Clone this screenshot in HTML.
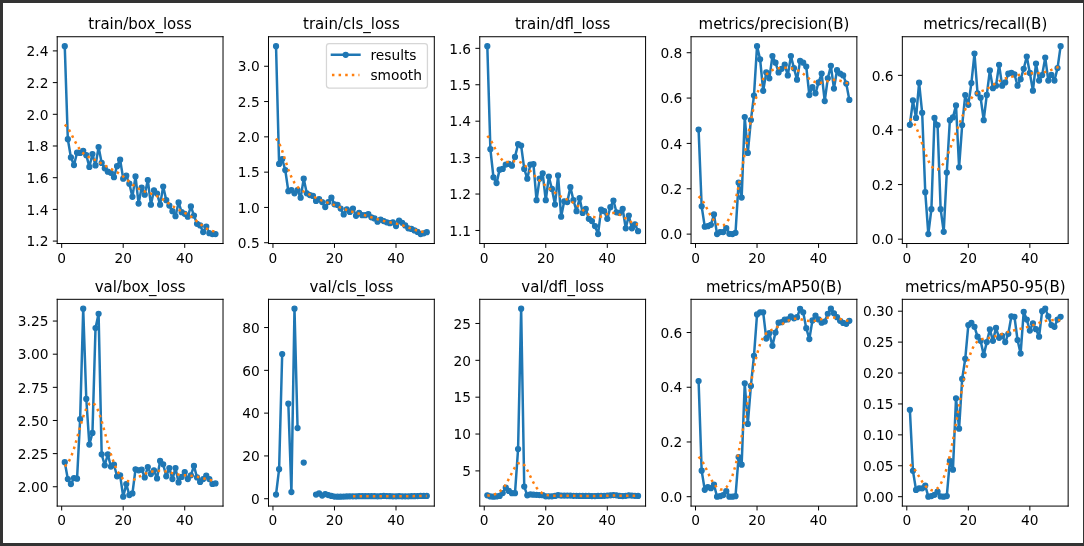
<!DOCTYPE html>
<html><head><meta charset="utf-8"><title>results</title>
<style>
html,body{margin:0;padding:0;background:#333333;}
body{width:1084px;height:546px;overflow:hidden;position:relative;font-family:"DejaVu Sans","Liberation Sans",sans-serif;}
#fig{position:absolute;left:3px;top:3px;width:1080px;height:540px;background:#fff;}
#fig svg{display:block}
</style></head><body><div id="fig">
<svg width="1080" height="540" viewBox="0 0 864 432">
 <defs>
  <style type="text/css">*{stroke-linejoin: round; stroke-linecap: butt}</style>
 </defs>
 <g id="figure_1">
  <g id="patch_1">
   <path d="M 0 432 L 864 432 L 864 0 L 0 0 z
" style="fill: #ffffff"/>
  </g>
  <g id="axes_1">
   <g id="patch_2">
    <path d="M 43.372 192.414 L 176.023 192.414 L 176.023 26.998 L 43.372 26.998 z
" style="fill: #ffffff"/>
   </g>
   <g id="matplotlib.axis_1">
    <g id="xtick_1">
     <g id="line2d_1">
      <g>
       <path d="M 0 0 L 0 3.5" transform="translate(46.940 192.414)" style="stroke: #000000; stroke-width: 0.8;stroke: #000000; stroke-width: 0.8"/>
      </g>
     </g>
     <g id="text_1">
      <text style="font-size: 11px; font-family: 'DejaVu Sans', 'Liberation Sans', sans-serif; text-anchor: middle" x="46.940" y="207.772">0</text>
     </g>
    </g>
    <g id="xtick_2">
     <g id="line2d_2">
      <g>
       <path d="M 0 0 L 0 3.5" transform="translate(96.161 192.414)" style="stroke: #000000; stroke-width: 0.8;stroke: #000000; stroke-width: 0.8"/>
      </g>
     </g>
     <g id="text_2">
      <text style="font-size: 11px; font-family: 'DejaVu Sans', 'Liberation Sans', sans-serif; text-anchor: middle" x="96.161" y="207.772">20</text>
     </g>
    </g>
    <g id="xtick_3">
     <g id="line2d_3">
      <g>
       <path d="M 0 0 L 0 3.5" transform="translate(145.382 192.414)" style="stroke: #000000; stroke-width: 0.8;stroke: #000000; stroke-width: 0.8"/>
      </g>
     </g>
     <g id="text_3">
      <text style="font-size: 11px; font-family: 'DejaVu Sans', 'Liberation Sans', sans-serif; text-anchor: middle" x="145.382" y="207.772">40</text>
     </g>
    </g>
   </g>
   <g id="matplotlib.axis_2">
    <g id="ytick_1">
     <g id="line2d_4">
      <g>
       <path d="M 0 0 L -3.5 0" transform="translate(43.372 190.474)" style="stroke: #000000; stroke-width: 0.8;stroke: #000000; stroke-width: 0.8"/>
      </g>
     </g>
     <g id="text_4">
      <text style="font-size: 11px; font-family: 'DejaVu Sans', 'Liberation Sans', sans-serif; text-anchor: end" x="36.372" y="194.653">1.2</text>
     </g>
    </g>
    <g id="ytick_2">
     <g id="line2d_5">
      <g>
       <path d="M 0 0 L -3.5 0" transform="translate(43.372 165.115)" style="stroke: #000000; stroke-width: 0.8;stroke: #000000; stroke-width: 0.8"/>
      </g>
     </g>
     <g id="text_5">
      <text style="font-size: 11px; font-family: 'DejaVu Sans', 'Liberation Sans', sans-serif; text-anchor: end" x="36.372" y="169.294">1.4</text>
     </g>
    </g>
    <g id="ytick_3">
     <g id="line2d_6">
      <g>
       <path d="M 0 0 L -3.5 0" transform="translate(43.372 139.756)" style="stroke: #000000; stroke-width: 0.8;stroke: #000000; stroke-width: 0.8"/>
      </g>
     </g>
     <g id="text_6">
      <text style="font-size: 11px; font-family: 'DejaVu Sans', 'Liberation Sans', sans-serif; text-anchor: end" x="36.372" y="143.935">1.6</text>
     </g>
    </g>
    <g id="ytick_4">
     <g id="line2d_7">
      <g>
       <path d="M 0 0 L -3.5 0" transform="translate(43.372 114.397)" style="stroke: #000000; stroke-width: 0.8;stroke: #000000; stroke-width: 0.8"/>
      </g>
     </g>
     <g id="text_7">
      <text style="font-size: 11px; font-family: 'DejaVu Sans', 'Liberation Sans', sans-serif; text-anchor: end" x="36.372" y="118.576">1.8</text>
     </g>
    </g>
    <g id="ytick_5">
     <g id="line2d_8">
      <g>
       <path d="M 0 0 L -3.5 0" transform="translate(43.372 89.038)" style="stroke: #000000; stroke-width: 0.8;stroke: #000000; stroke-width: 0.8"/>
      </g>
     </g>
     <g id="text_8">
      <text style="font-size: 11px; font-family: 'DejaVu Sans', 'Liberation Sans', sans-serif; text-anchor: end" x="36.372" y="93.217">2.0</text>
     </g>
    </g>
    <g id="ytick_6">
     <g id="line2d_9">
      <g>
       <path d="M 0 0 L -3.5 0" transform="translate(43.372 63.679)" style="stroke: #000000; stroke-width: 0.8;stroke: #000000; stroke-width: 0.8"/>
      </g>
     </g>
     <g id="text_9">
      <text style="font-size: 11px; font-family: 'DejaVu Sans', 'Liberation Sans', sans-serif; text-anchor: end" x="36.372" y="67.858">2.2</text>
     </g>
    </g>
    <g id="ytick_7">
     <g id="line2d_10">
      <g>
       <path d="M 0 0 L -3.5 0" transform="translate(43.372 38.320)" style="stroke: #000000; stroke-width: 0.8;stroke: #000000; stroke-width: 0.8"/>
      </g>
     </g>
     <g id="text_10">
      <text style="font-size: 11px; font-family: 'DejaVu Sans', 'Liberation Sans', sans-serif; text-anchor: end" x="36.372" y="42.500">2.4</text>
     </g>
    </g>
   </g>
   <g id="line2d_11">
    <path d="M 49.401 34.517 L 51.862 108.945 L 54.323 123.526 L 56.784 129.612 L 59.245 119.722 L 61.707 119.976 L 64.168 118.201 L 66.629 121.751 L 69.090 131.134 L 71.551 120.863 L 74.012 129.993 L 76.473 115.285 L 78.934 127.964 L 81.395 132.275 L 83.856 134.938 L 86.317 135.825 L 88.778 139.375 L 91.239 130.500 L 93.700 125.301 L 96.161 140.517 L 98.622 138.108 L 101.083 144.574 L 103.544 155.098 L 106.006 138.742 L 108.467 160.423 L 110.928 147.617 L 113.389 153.323 L 115.850 141.658 L 118.311 161.311 L 120.772 149.899 L 123.233 152.435 L 125.694 161.311 L 128.155 146.856 L 130.616 157.761 L 133.077 162.072 L 135.538 166.509 L 137.999 170.567 L 140.460 159.536 L 142.921 167.397 L 145.382 168.665 L 147.843 170.947 L 150.304 162.706 L 152.766 170.060 L 155.227 176.653 L 157.688 177.921 L 160.149 183.246 L 162.610 178.809 L 165.071 184.134 L 167.532 184.895 L 169.993 184.895 " clip-path="url(#p6f902339ce)" style="fill: none; stroke: #1f77b4; stroke-width: 2; stroke-linecap: square"/>
    <g clip-path="url(#p6f902339ce)">
     <circle cx="49.401" cy="34.517" r="2" style="stroke: #1f77b4;fill: #1f77b4; stroke: #1f77b4"/>
     <circle cx="51.862" cy="108.945" r="2" style="stroke: #1f77b4;fill: #1f77b4; stroke: #1f77b4"/>
     <circle cx="54.323" cy="123.526" r="2" style="stroke: #1f77b4;fill: #1f77b4; stroke: #1f77b4"/>
     <circle cx="56.784" cy="129.612" r="2" style="stroke: #1f77b4;fill: #1f77b4; stroke: #1f77b4"/>
     <circle cx="59.245" cy="119.722" r="2" style="stroke: #1f77b4;fill: #1f77b4; stroke: #1f77b4"/>
     <circle cx="61.707" cy="119.976" r="2" style="stroke: #1f77b4;fill: #1f77b4; stroke: #1f77b4"/>
     <circle cx="64.168" cy="118.201" r="2" style="stroke: #1f77b4;fill: #1f77b4; stroke: #1f77b4"/>
     <circle cx="66.629" cy="121.751" r="2" style="stroke: #1f77b4;fill: #1f77b4; stroke: #1f77b4"/>
     <circle cx="69.090" cy="131.134" r="2" style="stroke: #1f77b4;fill: #1f77b4; stroke: #1f77b4"/>
     <circle cx="71.551" cy="120.863" r="2" style="stroke: #1f77b4;fill: #1f77b4; stroke: #1f77b4"/>
     <circle cx="74.012" cy="129.993" r="2" style="stroke: #1f77b4;fill: #1f77b4; stroke: #1f77b4"/>
     <circle cx="76.473" cy="115.285" r="2" style="stroke: #1f77b4;fill: #1f77b4; stroke: #1f77b4"/>
     <circle cx="78.934" cy="127.964" r="2" style="stroke: #1f77b4;fill: #1f77b4; stroke: #1f77b4"/>
     <circle cx="81.395" cy="132.275" r="2" style="stroke: #1f77b4;fill: #1f77b4; stroke: #1f77b4"/>
     <circle cx="83.856" cy="134.938" r="2" style="stroke: #1f77b4;fill: #1f77b4; stroke: #1f77b4"/>
     <circle cx="86.317" cy="135.825" r="2" style="stroke: #1f77b4;fill: #1f77b4; stroke: #1f77b4"/>
     <circle cx="88.778" cy="139.375" r="2" style="stroke: #1f77b4;fill: #1f77b4; stroke: #1f77b4"/>
     <circle cx="91.239" cy="130.500" r="2" style="stroke: #1f77b4;fill: #1f77b4; stroke: #1f77b4"/>
     <circle cx="93.700" cy="125.301" r="2" style="stroke: #1f77b4;fill: #1f77b4; stroke: #1f77b4"/>
     <circle cx="96.161" cy="140.517" r="2" style="stroke: #1f77b4;fill: #1f77b4; stroke: #1f77b4"/>
     <circle cx="98.622" cy="138.108" r="2" style="stroke: #1f77b4;fill: #1f77b4; stroke: #1f77b4"/>
     <circle cx="101.083" cy="144.574" r="2" style="stroke: #1f77b4;fill: #1f77b4; stroke: #1f77b4"/>
     <circle cx="103.544" cy="155.098" r="2" style="stroke: #1f77b4;fill: #1f77b4; stroke: #1f77b4"/>
     <circle cx="106.006" cy="138.742" r="2" style="stroke: #1f77b4;fill: #1f77b4; stroke: #1f77b4"/>
     <circle cx="108.467" cy="160.423" r="2" style="stroke: #1f77b4;fill: #1f77b4; stroke: #1f77b4"/>
     <circle cx="110.928" cy="147.617" r="2" style="stroke: #1f77b4;fill: #1f77b4; stroke: #1f77b4"/>
     <circle cx="113.389" cy="153.323" r="2" style="stroke: #1f77b4;fill: #1f77b4; stroke: #1f77b4"/>
     <circle cx="115.850" cy="141.658" r="2" style="stroke: #1f77b4;fill: #1f77b4; stroke: #1f77b4"/>
     <circle cx="118.311" cy="161.311" r="2" style="stroke: #1f77b4;fill: #1f77b4; stroke: #1f77b4"/>
     <circle cx="120.772" cy="149.899" r="2" style="stroke: #1f77b4;fill: #1f77b4; stroke: #1f77b4"/>
     <circle cx="123.233" cy="152.435" r="2" style="stroke: #1f77b4;fill: #1f77b4; stroke: #1f77b4"/>
     <circle cx="125.694" cy="161.311" r="2" style="stroke: #1f77b4;fill: #1f77b4; stroke: #1f77b4"/>
     <circle cx="128.155" cy="146.856" r="2" style="stroke: #1f77b4;fill: #1f77b4; stroke: #1f77b4"/>
     <circle cx="130.616" cy="157.761" r="2" style="stroke: #1f77b4;fill: #1f77b4; stroke: #1f77b4"/>
     <circle cx="133.077" cy="162.072" r="2" style="stroke: #1f77b4;fill: #1f77b4; stroke: #1f77b4"/>
     <circle cx="135.538" cy="166.509" r="2" style="stroke: #1f77b4;fill: #1f77b4; stroke: #1f77b4"/>
     <circle cx="137.999" cy="170.567" r="2" style="stroke: #1f77b4;fill: #1f77b4; stroke: #1f77b4"/>
     <circle cx="140.460" cy="159.536" r="2" style="stroke: #1f77b4;fill: #1f77b4; stroke: #1f77b4"/>
     <circle cx="142.921" cy="167.397" r="2" style="stroke: #1f77b4;fill: #1f77b4; stroke: #1f77b4"/>
     <circle cx="145.382" cy="168.665" r="2" style="stroke: #1f77b4;fill: #1f77b4; stroke: #1f77b4"/>
     <circle cx="147.843" cy="170.947" r="2" style="stroke: #1f77b4;fill: #1f77b4; stroke: #1f77b4"/>
     <circle cx="150.304" cy="162.706" r="2" style="stroke: #1f77b4;fill: #1f77b4; stroke: #1f77b4"/>
     <circle cx="152.766" cy="170.060" r="2" style="stroke: #1f77b4;fill: #1f77b4; stroke: #1f77b4"/>
     <circle cx="155.227" cy="176.653" r="2" style="stroke: #1f77b4;fill: #1f77b4; stroke: #1f77b4"/>
     <circle cx="157.688" cy="177.921" r="2" style="stroke: #1f77b4;fill: #1f77b4; stroke: #1f77b4"/>
     <circle cx="160.149" cy="183.246" r="2" style="stroke: #1f77b4;fill: #1f77b4; stroke: #1f77b4"/>
     <circle cx="162.610" cy="178.809" r="2" style="stroke: #1f77b4;fill: #1f77b4; stroke: #1f77b4"/>
     <circle cx="165.071" cy="184.134" r="2" style="stroke: #1f77b4;fill: #1f77b4; stroke: #1f77b4"/>
     <circle cx="167.532" cy="184.895" r="2" style="stroke: #1f77b4;fill: #1f77b4; stroke: #1f77b4"/>
     <circle cx="169.993" cy="184.895" r="2" style="stroke: #1f77b4;fill: #1f77b4; stroke: #1f77b4"/>
    </g>
   </g>
   <g id="line2d_12">
    <path d="M 49.401 97.286 L 51.862 99.820 L 54.323 104.147 L 56.784 109.144 L 59.245 113.798 L 61.707 117.525 L 64.168 120.220 L 66.629 122.092 L 69.090 123.460 L 71.551 124.616 L 74.012 125.775 L 76.473 127.052 L 78.934 128.465 L 81.395 129.942 L 83.856 131.383 L 86.317 132.730 L 88.778 134.016 L 91.239 135.365 L 93.700 136.923 L 96.161 138.771 L 98.622 140.871 L 101.083 143.074 L 103.544 145.186 L 106.006 147.044 L 108.467 148.571 L 110.928 149.782 L 113.389 150.764 L 115.850 151.632 L 118.311 152.493 L 120.772 153.433 L 123.233 154.520 L 125.694 155.800 L 128.155 157.285 L 130.616 158.937 L 133.077 160.663 L 135.538 162.347 L 137.999 163.897 L 140.460 165.287 L 142.921 166.570 L 145.382 167.854 L 147.843 169.258 L 150.304 170.867 L 152.766 172.697 L 155.227 174.681 L 157.688 176.693 L 160.149 178.587 L 162.610 180.229 L 165.071 181.523 L 167.532 182.410 L 169.993 182.860 " clip-path="url(#p6f902339ce)" style="fill: none; stroke-dasharray: 2,3.3; stroke-dashoffset: 0; stroke: #ff7f0e; stroke-width: 2"/>
   </g>
   <g id="patch_3">
    <path d="M 43.372 192.414 L 43.372 26.998 " style="fill: none; stroke: #000000; stroke-width: 0.8; stroke-linejoin: miter; stroke-linecap: square"/>
   </g>
   <g id="patch_4">
    <path d="M 176.023 192.414 L 176.023 26.998 " style="fill: none; stroke: #000000; stroke-width: 0.8; stroke-linejoin: miter; stroke-linecap: square"/>
   </g>
   <g id="patch_5">
    <path d="M 43.372 192.414 L 176.023 192.414 " style="fill: none; stroke: #000000; stroke-width: 0.8; stroke-linejoin: miter; stroke-linecap: square"/>
   </g>
   <g id="patch_6">
    <path d="M 43.372 26.998 L 176.023 26.998 " style="fill: none; stroke: #000000; stroke-width: 0.8; stroke-linejoin: miter; stroke-linecap: square"/>
   </g>
   <g id="text_11">
    <text style="font-size: 12px; font-family: 'DejaVu Sans', 'Liberation Sans', sans-serif; text-anchor: middle" x="109.697" y="20.998">train/box_loss</text>
   </g>
  </g>
  <g id="axes_2">
   <g id="patch_7">
    <path d="M 212.396 192.414 L 345.047 192.414 L 345.047 26.998 L 212.396 26.998 z
" style="fill: #ffffff"/>
   </g>
   <g id="matplotlib.axis_3">
    <g id="xtick_4">
     <g id="line2d_13">
      <g>
       <path d="M 0 0 L 0 3.5" transform="translate(215.964 192.414)" style="stroke: #000000; stroke-width: 0.8;stroke: #000000; stroke-width: 0.8"/>
      </g>
     </g>
     <g id="text_12">
      <text style="font-size: 11px; font-family: 'DejaVu Sans', 'Liberation Sans', sans-serif; text-anchor: middle" x="215.964" y="207.772">0</text>
     </g>
    </g>
    <g id="xtick_5">
     <g id="line2d_14">
      <g>
       <path d="M 0 0 L 0 3.5" transform="translate(265.186 192.414)" style="stroke: #000000; stroke-width: 0.8;stroke: #000000; stroke-width: 0.8"/>
      </g>
     </g>
     <g id="text_13">
      <text style="font-size: 11px; font-family: 'DejaVu Sans', 'Liberation Sans', sans-serif; text-anchor: middle" x="265.186" y="207.772">20</text>
     </g>
    </g>
    <g id="xtick_6">
     <g id="line2d_15">
      <g>
       <path d="M 0 0 L 0 3.5" transform="translate(314.407 192.414)" style="stroke: #000000; stroke-width: 0.8;stroke: #000000; stroke-width: 0.8"/>
      </g>
     </g>
     <g id="text_14">
      <text style="font-size: 11px; font-family: 'DejaVu Sans', 'Liberation Sans', sans-serif; text-anchor: middle" x="314.407" y="207.772">40</text>
     </g>
    </g>
   </g>
   <g id="matplotlib.axis_4">
    <g id="ytick_8">
     <g id="line2d_16">
      <g>
       <path d="M 0 0 L -3.5 0" transform="translate(212.396 191.784)" style="stroke: #000000; stroke-width: 0.8;stroke: #000000; stroke-width: 0.8"/>
      </g>
     </g>
     <g id="text_15">
      <text style="font-size: 11px; font-family: 'DejaVu Sans', 'Liberation Sans', sans-serif; text-anchor: end" x="205.396" y="195.963">0.5</text>
     </g>
    </g>
    <g id="ytick_9">
     <g id="line2d_17">
      <g>
       <path d="M 0 0 L -3.5 0" transform="translate(212.396 163.549)" style="stroke: #000000; stroke-width: 0.8;stroke: #000000; stroke-width: 0.8"/>
      </g>
     </g>
     <g id="text_16">
      <text style="font-size: 11px; font-family: 'DejaVu Sans', 'Liberation Sans', sans-serif; text-anchor: end" x="205.396" y="167.728">1.0</text>
     </g>
    </g>
    <g id="ytick_10">
     <g id="line2d_18">
      <g>
       <path d="M 0 0 L -3.5 0" transform="translate(212.396 135.314)" style="stroke: #000000; stroke-width: 0.8;stroke: #000000; stroke-width: 0.8"/>
      </g>
     </g>
     <g id="text_17">
      <text style="font-size: 11px; font-family: 'DejaVu Sans', 'Liberation Sans', sans-serif; text-anchor: end" x="205.396" y="139.494">1.5</text>
     </g>
    </g>
    <g id="ytick_11">
     <g id="line2d_19">
      <g>
       <path d="M 0 0 L -3.5 0" transform="translate(212.396 107.080)" style="stroke: #000000; stroke-width: 0.8;stroke: #000000; stroke-width: 0.8"/>
      </g>
     </g>
     <g id="text_18">
      <text style="font-size: 11px; font-family: 'DejaVu Sans', 'Liberation Sans', sans-serif; text-anchor: end" x="205.396" y="111.259">2.0</text>
     </g>
    </g>
    <g id="ytick_12">
     <g id="line2d_20">
      <g>
       <path d="M 0 0 L -3.5 0" transform="translate(212.396 78.845)" style="stroke: #000000; stroke-width: 0.8;stroke: #000000; stroke-width: 0.8"/>
      </g>
     </g>
     <g id="text_19">
      <text style="font-size: 11px; font-family: 'DejaVu Sans', 'Liberation Sans', sans-serif; text-anchor: end" x="205.396" y="83.024">2.5</text>
     </g>
    </g>
    <g id="ytick_13">
     <g id="line2d_21">
      <g>
       <path d="M 0 0 L -3.5 0" transform="translate(212.396 50.610)" style="stroke: #000000; stroke-width: 0.8;stroke: #000000; stroke-width: 0.8"/>
      </g>
     </g>
     <g id="text_20">
      <text style="font-size: 11px; font-family: 'DejaVu Sans', 'Liberation Sans', sans-serif; text-anchor: end" x="205.396" y="54.789">3.0</text>
     </g>
    </g>
   </g>
   <g id="line2d_22">
    <path d="M 218.426 34.517 L 220.887 128.708 L 223.348 124.868 L 225.809 133.620 L 228.270 150.505 L 230.731 149.658 L 233.192 152.255 L 235.653 149.658 L 238.114 155.756 L 240.575 140.566 L 243.036 152.255 L 245.497 153.667 L 247.958 154.345 L 250.419 158.354 L 252.880 156.942 L 255.341 159.258 L 257.802 163.267 L 260.263 159.258 L 262.724 155.756 L 265.186 161.008 L 267.647 161.516 L 270.108 164.453 L 272.569 169.196 L 275.030 165.017 L 277.491 167.107 L 279.952 164.453 L 282.413 170.213 L 284.874 167.954 L 287.335 169.704 L 289.796 169.704 L 292.257 168.857 L 294.718 171.455 L 297.179 172.358 L 299.640 174.956 L 302.101 173.205 L 304.562 174.448 L 307.023 175.464 L 309.485 176.198 L 311.946 175.464 L 314.407 178.457 L 316.868 174.109 L 319.329 175.803 L 321.790 177.949 L 324.251 180.208 L 326.712 180.716 L 329.173 181.958 L 331.634 183.144 L 334.095 184.895 L 336.556 184.217 L 339.017 183.314 " clip-path="url(#p2032f3da3a)" style="fill: none; stroke: #1f77b4; stroke-width: 2; stroke-linecap: square"/>
    <g clip-path="url(#p2032f3da3a)">
     <circle cx="218.426" cy="34.517" r="2" style="stroke: #1f77b4;fill: #1f77b4; stroke: #1f77b4"/>
     <circle cx="220.887" cy="128.708" r="2" style="stroke: #1f77b4;fill: #1f77b4; stroke: #1f77b4"/>
     <circle cx="223.348" cy="124.868" r="2" style="stroke: #1f77b4;fill: #1f77b4; stroke: #1f77b4"/>
     <circle cx="225.809" cy="133.620" r="2" style="stroke: #1f77b4;fill: #1f77b4; stroke: #1f77b4"/>
     <circle cx="228.270" cy="150.505" r="2" style="stroke: #1f77b4;fill: #1f77b4; stroke: #1f77b4"/>
     <circle cx="230.731" cy="149.658" r="2" style="stroke: #1f77b4;fill: #1f77b4; stroke: #1f77b4"/>
     <circle cx="233.192" cy="152.255" r="2" style="stroke: #1f77b4;fill: #1f77b4; stroke: #1f77b4"/>
     <circle cx="235.653" cy="149.658" r="2" style="stroke: #1f77b4;fill: #1f77b4; stroke: #1f77b4"/>
     <circle cx="238.114" cy="155.756" r="2" style="stroke: #1f77b4;fill: #1f77b4; stroke: #1f77b4"/>
     <circle cx="240.575" cy="140.566" r="2" style="stroke: #1f77b4;fill: #1f77b4; stroke: #1f77b4"/>
     <circle cx="243.036" cy="152.255" r="2" style="stroke: #1f77b4;fill: #1f77b4; stroke: #1f77b4"/>
     <circle cx="245.497" cy="153.667" r="2" style="stroke: #1f77b4;fill: #1f77b4; stroke: #1f77b4"/>
     <circle cx="247.958" cy="154.345" r="2" style="stroke: #1f77b4;fill: #1f77b4; stroke: #1f77b4"/>
     <circle cx="250.419" cy="158.354" r="2" style="stroke: #1f77b4;fill: #1f77b4; stroke: #1f77b4"/>
     <circle cx="252.880" cy="156.942" r="2" style="stroke: #1f77b4;fill: #1f77b4; stroke: #1f77b4"/>
     <circle cx="255.341" cy="159.258" r="2" style="stroke: #1f77b4;fill: #1f77b4; stroke: #1f77b4"/>
     <circle cx="257.802" cy="163.267" r="2" style="stroke: #1f77b4;fill: #1f77b4; stroke: #1f77b4"/>
     <circle cx="260.263" cy="159.258" r="2" style="stroke: #1f77b4;fill: #1f77b4; stroke: #1f77b4"/>
     <circle cx="262.724" cy="155.756" r="2" style="stroke: #1f77b4;fill: #1f77b4; stroke: #1f77b4"/>
     <circle cx="265.186" cy="161.008" r="2" style="stroke: #1f77b4;fill: #1f77b4; stroke: #1f77b4"/>
     <circle cx="267.647" cy="161.516" r="2" style="stroke: #1f77b4;fill: #1f77b4; stroke: #1f77b4"/>
     <circle cx="270.108" cy="164.453" r="2" style="stroke: #1f77b4;fill: #1f77b4; stroke: #1f77b4"/>
     <circle cx="272.569" cy="169.196" r="2" style="stroke: #1f77b4;fill: #1f77b4; stroke: #1f77b4"/>
     <circle cx="275.030" cy="165.017" r="2" style="stroke: #1f77b4;fill: #1f77b4; stroke: #1f77b4"/>
     <circle cx="277.491" cy="167.107" r="2" style="stroke: #1f77b4;fill: #1f77b4; stroke: #1f77b4"/>
     <circle cx="279.952" cy="164.453" r="2" style="stroke: #1f77b4;fill: #1f77b4; stroke: #1f77b4"/>
     <circle cx="282.413" cy="170.213" r="2" style="stroke: #1f77b4;fill: #1f77b4; stroke: #1f77b4"/>
     <circle cx="284.874" cy="167.954" r="2" style="stroke: #1f77b4;fill: #1f77b4; stroke: #1f77b4"/>
     <circle cx="287.335" cy="169.704" r="2" style="stroke: #1f77b4;fill: #1f77b4; stroke: #1f77b4"/>
     <circle cx="289.796" cy="169.704" r="2" style="stroke: #1f77b4;fill: #1f77b4; stroke: #1f77b4"/>
     <circle cx="292.257" cy="168.857" r="2" style="stroke: #1f77b4;fill: #1f77b4; stroke: #1f77b4"/>
     <circle cx="294.718" cy="171.455" r="2" style="stroke: #1f77b4;fill: #1f77b4; stroke: #1f77b4"/>
     <circle cx="297.179" cy="172.358" r="2" style="stroke: #1f77b4;fill: #1f77b4; stroke: #1f77b4"/>
     <circle cx="299.640" cy="174.956" r="2" style="stroke: #1f77b4;fill: #1f77b4; stroke: #1f77b4"/>
     <circle cx="302.101" cy="173.205" r="2" style="stroke: #1f77b4;fill: #1f77b4; stroke: #1f77b4"/>
     <circle cx="304.562" cy="174.448" r="2" style="stroke: #1f77b4;fill: #1f77b4; stroke: #1f77b4"/>
     <circle cx="307.023" cy="175.464" r="2" style="stroke: #1f77b4;fill: #1f77b4; stroke: #1f77b4"/>
     <circle cx="309.485" cy="176.198" r="2" style="stroke: #1f77b4;fill: #1f77b4; stroke: #1f77b4"/>
     <circle cx="311.946" cy="175.464" r="2" style="stroke: #1f77b4;fill: #1f77b4; stroke: #1f77b4"/>
     <circle cx="314.407" cy="178.457" r="2" style="stroke: #1f77b4;fill: #1f77b4; stroke: #1f77b4"/>
     <circle cx="316.868" cy="174.109" r="2" style="stroke: #1f77b4;fill: #1f77b4; stroke: #1f77b4"/>
     <circle cx="319.329" cy="175.803" r="2" style="stroke: #1f77b4;fill: #1f77b4; stroke: #1f77b4"/>
     <circle cx="321.790" cy="177.949" r="2" style="stroke: #1f77b4;fill: #1f77b4; stroke: #1f77b4"/>
     <circle cx="324.251" cy="180.208" r="2" style="stroke: #1f77b4;fill: #1f77b4; stroke: #1f77b4"/>
     <circle cx="326.712" cy="180.716" r="2" style="stroke: #1f77b4;fill: #1f77b4; stroke: #1f77b4"/>
     <circle cx="329.173" cy="181.958" r="2" style="stroke: #1f77b4;fill: #1f77b4; stroke: #1f77b4"/>
     <circle cx="331.634" cy="183.144" r="2" style="stroke: #1f77b4;fill: #1f77b4; stroke: #1f77b4"/>
     <circle cx="334.095" cy="184.895" r="2" style="stroke: #1f77b4;fill: #1f77b4; stroke: #1f77b4"/>
     <circle cx="336.556" cy="184.217" r="2" style="stroke: #1f77b4;fill: #1f77b4; stroke: #1f77b4"/>
     <circle cx="339.017" cy="183.314" r="2" style="stroke: #1f77b4;fill: #1f77b4; stroke: #1f77b4"/>
    </g>
   </g>
   <g id="line2d_23">
    <path d="M 218.426 108.346 L 220.887 111.930 L 223.348 118.198 L 225.809 125.723 L 228.270 133.084 L 230.731 139.293 L 233.192 143.949 L 235.653 147.153 L 238.114 149.295 L 240.575 150.829 L 243.036 152.122 L 245.497 153.381 L 247.958 154.663 L 250.419 155.924 L 252.880 157.093 L 255.341 158.126 L 257.802 159.033 L 260.263 159.875 L 262.724 160.730 L 265.186 161.654 L 267.647 162.655 L 270.108 163.689 L 272.569 164.692 L 275.030 165.614 L 277.491 166.437 L 279.952 167.178 L 282.413 167.867 L 284.874 168.539 L 287.335 169.220 L 289.796 169.929 L 292.257 170.675 L 294.718 171.449 L 297.179 172.233 L 299.640 172.996 L 302.101 173.712 L 304.562 174.360 L 307.023 174.938 L 309.485 175.459 L 311.946 175.958 L 314.407 176.482 L 316.868 177.082 L 319.329 177.795 L 321.790 178.626 L 324.251 179.543 L 326.712 180.483 L 329.173 181.371 L 331.634 182.137 L 334.095 182.732 L 336.556 183.132 L 339.017 183.331 " clip-path="url(#p2032f3da3a)" style="fill: none; stroke-dasharray: 2,3.3; stroke-dashoffset: 0; stroke: #ff7f0e; stroke-width: 2"/>
   </g>
   <g id="patch_8">
    <path d="M 212.396 192.414 L 212.396 26.998 " style="fill: none; stroke: #000000; stroke-width: 0.8; stroke-linejoin: miter; stroke-linecap: square"/>
   </g>
   <g id="patch_9">
    <path d="M 345.047 192.414 L 345.047 26.998 " style="fill: none; stroke: #000000; stroke-width: 0.8; stroke-linejoin: miter; stroke-linecap: square"/>
   </g>
   <g id="patch_10">
    <path d="M 212.396 192.414 L 345.047 192.414 " style="fill: none; stroke: #000000; stroke-width: 0.8; stroke-linejoin: miter; stroke-linecap: square"/>
   </g>
   <g id="patch_11">
    <path d="M 212.396 26.998 L 345.047 26.998 " style="fill: none; stroke: #000000; stroke-width: 0.8; stroke-linejoin: miter; stroke-linecap: square"/>
   </g>
   <g id="text_21">
    <text style="font-size: 12px; font-family: 'DejaVu Sans', 'Liberation Sans', sans-serif; text-anchor: middle" x="278.721" y="20.998">train/cls_loss</text>
   </g>
   <g id="legend_1">
    <g id="patch_12">
     <path d="M 260.957 68.09 L 337.347 68.09 Q 339.547 68.09 339.547 65.89 L 339.547 34.698 Q 339.547 32.498 337.347 32.498 L 260.957 32.498 Q 258.757 32.498 258.757 34.698 L 258.757 65.89 Q 258.757 68.09 260.957 68.09 z
" style="fill: #ffffff; opacity: 0.8; stroke: #cccccc; stroke-linejoin: miter"/>
    </g>
    <g id="line2d_24">
     <path d="M 263.157 41.406 L 274.157 41.406 L 285.157 41.406 " style="fill: none; stroke: #1f77b4; stroke-width: 2; stroke-linecap: square"/>
     <g>
      <circle cx="274.157" cy="41.406" r="2" style="stroke: #1f77b4;fill: #1f77b4; stroke: #1f77b4"/>
     </g>
    </g>
    <g id="text_22">
     <text style="font-size: 11px; font-family: 'DejaVu Sans', 'Liberation Sans', sans-serif; text-anchor: start" x="293.957" y="45.256">results</text>
    </g>
    <g id="line2d_25">
     <path d="M 263.157 57.552 L 274.157 57.552 L 285.157 57.552 " style="fill: none; stroke-dasharray: 2,3.3; stroke-dashoffset: 0; stroke: #ff7f0e; stroke-width: 2"/>
    </g>
    <g id="text_23">
     <text style="font-size: 11px; font-family: 'DejaVu Sans', 'Liberation Sans', sans-serif; text-anchor: start" x="293.957" y="61.402">smooth</text>
    </g>
   </g>
  </g>
  <g id="axes_3">
   <g id="patch_13">
    <path d="M 381.420 192.414 L 514.071 192.414 L 514.071 26.998 L 381.420 26.998 z
" style="fill: #ffffff"/>
   </g>
   <g id="matplotlib.axis_5">
    <g id="xtick_7">
     <g id="line2d_26">
      <g>
       <path d="M 0 0 L 0 3.5" transform="translate(384.989 192.414)" style="stroke: #000000; stroke-width: 0.8;stroke: #000000; stroke-width: 0.8"/>
      </g>
     </g>
     <g id="text_24">
      <text style="font-size: 11px; font-family: 'DejaVu Sans', 'Liberation Sans', sans-serif; text-anchor: middle" x="384.989" y="207.772">0</text>
     </g>
    </g>
    <g id="xtick_8">
     <g id="line2d_27">
      <g>
       <path d="M 0 0 L 0 3.5" transform="translate(434.210 192.414)" style="stroke: #000000; stroke-width: 0.8;stroke: #000000; stroke-width: 0.8"/>
      </g>
     </g>
     <g id="text_25">
      <text style="font-size: 11px; font-family: 'DejaVu Sans', 'Liberation Sans', sans-serif; text-anchor: middle" x="434.210" y="207.772">20</text>
     </g>
    </g>
    <g id="xtick_9">
     <g id="line2d_28">
      <g>
       <path d="M 0 0 L 0 3.5" transform="translate(483.431 192.414)" style="stroke: #000000; stroke-width: 0.8;stroke: #000000; stroke-width: 0.8"/>
      </g>
     </g>
     <g id="text_26">
      <text style="font-size: 11px; font-family: 'DejaVu Sans', 'Liberation Sans', sans-serif; text-anchor: middle" x="483.431" y="207.772">40</text>
     </g>
    </g>
   </g>
   <g id="matplotlib.axis_6">
    <g id="ytick_14">
     <g id="line2d_29">
      <g>
       <path d="M 0 0 L -3.5 0" transform="translate(381.420 181.980)" style="stroke: #000000; stroke-width: 0.8;stroke: #000000; stroke-width: 0.8"/>
      </g>
     </g>
     <g id="text_27">
      <text style="font-size: 11px; font-family: 'DejaVu Sans', 'Liberation Sans', sans-serif; text-anchor: end" x="374.420" y="186.159">1.1</text>
     </g>
    </g>
    <g id="ytick_15">
     <g id="line2d_30">
      <g>
       <path d="M 0 0 L -3.5 0" transform="translate(381.420 152.837)" style="stroke: #000000; stroke-width: 0.8;stroke: #000000; stroke-width: 0.8"/>
      </g>
     </g>
     <g id="text_28">
      <text style="font-size: 11px; font-family: 'DejaVu Sans', 'Liberation Sans', sans-serif; text-anchor: end" x="374.420" y="157.016">1.2</text>
     </g>
    </g>
    <g id="ytick_16">
     <g id="line2d_31">
      <g>
       <path d="M 0 0 L -3.5 0" transform="translate(381.420 123.694)" style="stroke: #000000; stroke-width: 0.8;stroke: #000000; stroke-width: 0.8"/>
      </g>
     </g>
     <g id="text_29">
      <text style="font-size: 11px; font-family: 'DejaVu Sans', 'Liberation Sans', sans-serif; text-anchor: end" x="374.420" y="127.873">1.3</text>
     </g>
    </g>
    <g id="ytick_17">
     <g id="line2d_32">
      <g>
       <path d="M 0 0 L -3.5 0" transform="translate(381.420 94.551)" style="stroke: #000000; stroke-width: 0.8;stroke: #000000; stroke-width: 0.8"/>
      </g>
     </g>
     <g id="text_30">
      <text style="font-size: 11px; font-family: 'DejaVu Sans', 'Liberation Sans', sans-serif; text-anchor: end" x="374.420" y="98.730">1.4</text>
     </g>
    </g>
    <g id="ytick_18">
     <g id="line2d_33">
      <g>
       <path d="M 0 0 L -3.5 0" transform="translate(381.420 65.408)" style="stroke: #000000; stroke-width: 0.8;stroke: #000000; stroke-width: 0.8"/>
      </g>
     </g>
     <g id="text_31">
      <text style="font-size: 11px; font-family: 'DejaVu Sans', 'Liberation Sans', sans-serif; text-anchor: end" x="374.420" y="69.587">1.5</text>
     </g>
    </g>
    <g id="ytick_19">
     <g id="line2d_34">
      <g>
       <path d="M 0 0 L -3.5 0" transform="translate(381.420 36.265)" style="stroke: #000000; stroke-width: 0.8;stroke: #000000; stroke-width: 0.8"/>
      </g>
     </g>
     <g id="text_32">
      <text style="font-size: 11px; font-family: 'DejaVu Sans', 'Liberation Sans', sans-serif; text-anchor: end" x="374.420" y="40.444">1.6</text>
     </g>
    </g>
   </g>
   <g id="line2d_35">
    <path d="M 387.450 34.517 L 389.911 116.991 L 392.372 139.432 L 394.833 144.094 L 397.294 133.311 L 399.755 132.729 L 402.216 129.231 L 404.677 128.649 L 407.138 130.106 L 409.599 123.111 L 412.060 112.911 L 414.521 114.077 L 416.982 132.729 L 419.443 140.597 L 421.905 129.231 L 424.366 128.940 L 426.827 157.792 L 429.288 140.597 L 431.749 136.226 L 434.210 157.792 L 436.671 138.849 L 439.132 148.757 L 441.593 161.289 L 444.054 137.974 L 446.515 170.906 L 448.976 158.666 L 451.437 159.249 L 453.898 147.300 L 456.359 157.792 L 458.820 166.535 L 461.281 156.043 L 463.742 167.992 L 466.203 164.786 L 468.665 172.655 L 471.126 174.403 L 473.587 178.483 L 476.048 184.895 L 478.509 165.369 L 480.970 166.535 L 483.431 172.655 L 485.892 163.329 L 488.353 158.083 L 490.814 167.409 L 493.275 167.992 L 495.736 164.786 L 498.197 180.232 L 500.658 170.032 L 503.119 180.232 L 505.580 177.026 L 508.041 182.563 " clip-path="url(#p749622a387)" style="fill: none; stroke: #1f77b4; stroke-width: 2; stroke-linecap: square"/>
    <g clip-path="url(#p749622a387)">
     <circle cx="387.450" cy="34.517" r="2" style="stroke: #1f77b4;fill: #1f77b4; stroke: #1f77b4"/>
     <circle cx="389.911" cy="116.991" r="2" style="stroke: #1f77b4;fill: #1f77b4; stroke: #1f77b4"/>
     <circle cx="392.372" cy="139.432" r="2" style="stroke: #1f77b4;fill: #1f77b4; stroke: #1f77b4"/>
     <circle cx="394.833" cy="144.094" r="2" style="stroke: #1f77b4;fill: #1f77b4; stroke: #1f77b4"/>
     <circle cx="397.294" cy="133.311" r="2" style="stroke: #1f77b4;fill: #1f77b4; stroke: #1f77b4"/>
     <circle cx="399.755" cy="132.729" r="2" style="stroke: #1f77b4;fill: #1f77b4; stroke: #1f77b4"/>
     <circle cx="402.216" cy="129.231" r="2" style="stroke: #1f77b4;fill: #1f77b4; stroke: #1f77b4"/>
     <circle cx="404.677" cy="128.649" r="2" style="stroke: #1f77b4;fill: #1f77b4; stroke: #1f77b4"/>
     <circle cx="407.138" cy="130.106" r="2" style="stroke: #1f77b4;fill: #1f77b4; stroke: #1f77b4"/>
     <circle cx="409.599" cy="123.111" r="2" style="stroke: #1f77b4;fill: #1f77b4; stroke: #1f77b4"/>
     <circle cx="412.060" cy="112.911" r="2" style="stroke: #1f77b4;fill: #1f77b4; stroke: #1f77b4"/>
     <circle cx="414.521" cy="114.077" r="2" style="stroke: #1f77b4;fill: #1f77b4; stroke: #1f77b4"/>
     <circle cx="416.982" cy="132.729" r="2" style="stroke: #1f77b4;fill: #1f77b4; stroke: #1f77b4"/>
     <circle cx="419.443" cy="140.597" r="2" style="stroke: #1f77b4;fill: #1f77b4; stroke: #1f77b4"/>
     <circle cx="421.905" cy="129.231" r="2" style="stroke: #1f77b4;fill: #1f77b4; stroke: #1f77b4"/>
     <circle cx="424.366" cy="128.940" r="2" style="stroke: #1f77b4;fill: #1f77b4; stroke: #1f77b4"/>
     <circle cx="426.827" cy="157.792" r="2" style="stroke: #1f77b4;fill: #1f77b4; stroke: #1f77b4"/>
     <circle cx="429.288" cy="140.597" r="2" style="stroke: #1f77b4;fill: #1f77b4; stroke: #1f77b4"/>
     <circle cx="431.749" cy="136.226" r="2" style="stroke: #1f77b4;fill: #1f77b4; stroke: #1f77b4"/>
     <circle cx="434.210" cy="157.792" r="2" style="stroke: #1f77b4;fill: #1f77b4; stroke: #1f77b4"/>
     <circle cx="436.671" cy="138.849" r="2" style="stroke: #1f77b4;fill: #1f77b4; stroke: #1f77b4"/>
     <circle cx="439.132" cy="148.757" r="2" style="stroke: #1f77b4;fill: #1f77b4; stroke: #1f77b4"/>
     <circle cx="441.593" cy="161.289" r="2" style="stroke: #1f77b4;fill: #1f77b4; stroke: #1f77b4"/>
     <circle cx="444.054" cy="137.974" r="2" style="stroke: #1f77b4;fill: #1f77b4; stroke: #1f77b4"/>
     <circle cx="446.515" cy="170.906" r="2" style="stroke: #1f77b4;fill: #1f77b4; stroke: #1f77b4"/>
     <circle cx="448.976" cy="158.666" r="2" style="stroke: #1f77b4;fill: #1f77b4; stroke: #1f77b4"/>
     <circle cx="451.437" cy="159.249" r="2" style="stroke: #1f77b4;fill: #1f77b4; stroke: #1f77b4"/>
     <circle cx="453.898" cy="147.300" r="2" style="stroke: #1f77b4;fill: #1f77b4; stroke: #1f77b4"/>
     <circle cx="456.359" cy="157.792" r="2" style="stroke: #1f77b4;fill: #1f77b4; stroke: #1f77b4"/>
     <circle cx="458.820" cy="166.535" r="2" style="stroke: #1f77b4;fill: #1f77b4; stroke: #1f77b4"/>
     <circle cx="461.281" cy="156.043" r="2" style="stroke: #1f77b4;fill: #1f77b4; stroke: #1f77b4"/>
     <circle cx="463.742" cy="167.992" r="2" style="stroke: #1f77b4;fill: #1f77b4; stroke: #1f77b4"/>
     <circle cx="466.203" cy="164.786" r="2" style="stroke: #1f77b4;fill: #1f77b4; stroke: #1f77b4"/>
     <circle cx="468.665" cy="172.655" r="2" style="stroke: #1f77b4;fill: #1f77b4; stroke: #1f77b4"/>
     <circle cx="471.126" cy="174.403" r="2" style="stroke: #1f77b4;fill: #1f77b4; stroke: #1f77b4"/>
     <circle cx="473.587" cy="178.483" r="2" style="stroke: #1f77b4;fill: #1f77b4; stroke: #1f77b4"/>
     <circle cx="476.048" cy="184.895" r="2" style="stroke: #1f77b4;fill: #1f77b4; stroke: #1f77b4"/>
     <circle cx="478.509" cy="165.369" r="2" style="stroke: #1f77b4;fill: #1f77b4; stroke: #1f77b4"/>
     <circle cx="480.970" cy="166.535" r="2" style="stroke: #1f77b4;fill: #1f77b4; stroke: #1f77b4"/>
     <circle cx="483.431" cy="172.655" r="2" style="stroke: #1f77b4;fill: #1f77b4; stroke: #1f77b4"/>
     <circle cx="485.892" cy="163.329" r="2" style="stroke: #1f77b4;fill: #1f77b4; stroke: #1f77b4"/>
     <circle cx="488.353" cy="158.083" r="2" style="stroke: #1f77b4;fill: #1f77b4; stroke: #1f77b4"/>
     <circle cx="490.814" cy="167.409" r="2" style="stroke: #1f77b4;fill: #1f77b4; stroke: #1f77b4"/>
     <circle cx="493.275" cy="167.992" r="2" style="stroke: #1f77b4;fill: #1f77b4; stroke: #1f77b4"/>
     <circle cx="495.736" cy="164.786" r="2" style="stroke: #1f77b4;fill: #1f77b4; stroke: #1f77b4"/>
     <circle cx="498.197" cy="180.232" r="2" style="stroke: #1f77b4;fill: #1f77b4; stroke: #1f77b4"/>
     <circle cx="500.658" cy="170.032" r="2" style="stroke: #1f77b4;fill: #1f77b4; stroke: #1f77b4"/>
     <circle cx="503.119" cy="180.232" r="2" style="stroke: #1f77b4;fill: #1f77b4; stroke: #1f77b4"/>
     <circle cx="505.580" cy="177.026" r="2" style="stroke: #1f77b4;fill: #1f77b4; stroke: #1f77b4"/>
     <circle cx="508.041" cy="182.563" r="2" style="stroke: #1f77b4;fill: #1f77b4; stroke: #1f77b4"/>
    </g>
   </g>
   <g id="line2d_36">
    <path d="M 387.450 106.306 L 389.911 109.097 L 392.372 113.756 L 394.833 118.882 L 397.294 123.200 L 399.755 125.996 L 402.216 127.211 L 404.677 127.271 L 407.138 126.815 L 409.599 126.464 L 412.060 126.678 L 414.521 127.680 L 416.982 129.459 L 419.443 131.823 L 421.905 134.494 L 424.366 137.209 L 426.827 139.781 L 429.288 142.125 L 431.749 144.250 L 434.210 146.221 L 436.671 148.110 L 439.132 149.958 L 441.593 151.743 L 444.054 153.404 L 446.515 154.879 L 448.976 156.161 L 451.437 157.324 L 453.898 158.510 L 456.359 159.868 L 458.820 161.498 L 461.281 163.407 L 463.742 165.498 L 466.203 167.586 L 468.665 169.430 L 471.126 170.784 L 473.587 171.471 L 476.048 171.446 L 478.509 170.821 L 480.970 169.847 L 483.431 168.847 L 485.892 168.132 L 488.353 167.927 L 490.814 168.335 L 493.275 169.324 L 495.736 170.756 L 498.197 172.428 L 500.658 174.112 L 503.119 175.593 L 505.580 176.690 L 508.041 177.273 " clip-path="url(#p749622a387)" style="fill: none; stroke-dasharray: 2,3.3; stroke-dashoffset: 0; stroke: #ff7f0e; stroke-width: 2"/>
   </g>
   <g id="patch_14">
    <path d="M 381.420 192.414 L 381.420 26.998 " style="fill: none; stroke: #000000; stroke-width: 0.8; stroke-linejoin: miter; stroke-linecap: square"/>
   </g>
   <g id="patch_15">
    <path d="M 514.071 192.414 L 514.071 26.998 " style="fill: none; stroke: #000000; stroke-width: 0.8; stroke-linejoin: miter; stroke-linecap: square"/>
   </g>
   <g id="patch_16">
    <path d="M 381.420 192.414 L 514.071 192.414 " style="fill: none; stroke: #000000; stroke-width: 0.8; stroke-linejoin: miter; stroke-linecap: square"/>
   </g>
   <g id="patch_17">
    <path d="M 381.420 26.998 L 514.071 26.998 " style="fill: none; stroke: #000000; stroke-width: 0.8; stroke-linejoin: miter; stroke-linecap: square"/>
   </g>
   <g id="text_33">
    <text style="font-size: 12px; font-family: 'DejaVu Sans', 'Liberation Sans', sans-serif; text-anchor: middle" x="447.746" y="20.998">train/dfl_loss</text>
   </g>
  </g>
  <g id="axes_4">
   <g id="patch_18">
    <path d="M 550.444 192.414 L 683.095 192.414 L 683.095 26.998 L 550.444 26.998 z
" style="fill: #ffffff"/>
   </g>
   <g id="matplotlib.axis_7">
    <g id="xtick_10">
     <g id="line2d_37">
      <g>
       <path d="M 0 0 L 0 3.5" transform="translate(554.013 192.414)" style="stroke: #000000; stroke-width: 0.8;stroke: #000000; stroke-width: 0.8"/>
      </g>
     </g>
     <g id="text_34">
      <text style="font-size: 11px; font-family: 'DejaVu Sans', 'Liberation Sans', sans-serif; text-anchor: middle" x="554.013" y="207.772">0</text>
     </g>
    </g>
    <g id="xtick_11">
     <g id="line2d_38">
      <g>
       <path d="M 0 0 L 0 3.5" transform="translate(603.234 192.414)" style="stroke: #000000; stroke-width: 0.8;stroke: #000000; stroke-width: 0.8"/>
      </g>
     </g>
     <g id="text_35">
      <text style="font-size: 11px; font-family: 'DejaVu Sans', 'Liberation Sans', sans-serif; text-anchor: middle" x="603.234" y="207.772">20</text>
     </g>
    </g>
    <g id="xtick_12">
     <g id="line2d_39">
      <g>
       <path d="M 0 0 L 0 3.5" transform="translate(652.455 192.414)" style="stroke: #000000; stroke-width: 0.8;stroke: #000000; stroke-width: 0.8"/>
      </g>
     </g>
     <g id="text_36">
      <text style="font-size: 11px; font-family: 'DejaVu Sans', 'Liberation Sans', sans-serif; text-anchor: middle" x="652.455" y="207.772">40</text>
     </g>
    </g>
   </g>
   <g id="matplotlib.axis_8">
    <g id="ytick_20">
     <g id="line2d_40">
      <g>
       <path d="M 0 0 L -3.5 0" transform="translate(550.444 184.895)" style="stroke: #000000; stroke-width: 0.8;stroke: #000000; stroke-width: 0.8"/>
      </g>
     </g>
     <g id="text_37">
      <text style="font-size: 11px; font-family: 'DejaVu Sans', 'Liberation Sans', sans-serif; text-anchor: end" x="543.444" y="189.074">0.0</text>
     </g>
    </g>
    <g id="ytick_21">
     <g id="line2d_41">
      <g>
       <path d="M 0 0 L -3.5 0" transform="translate(550.444 148.615)" style="stroke: #000000; stroke-width: 0.8;stroke: #000000; stroke-width: 0.8"/>
      </g>
     </g>
     <g id="text_38">
      <text style="font-size: 11px; font-family: 'DejaVu Sans', 'Liberation Sans', sans-serif; text-anchor: end" x="543.444" y="152.794">0.2</text>
     </g>
    </g>
    <g id="ytick_22">
     <g id="line2d_42">
      <g>
       <path d="M 0 0 L -3.5 0" transform="translate(550.444 112.336)" style="stroke: #000000; stroke-width: 0.8;stroke: #000000; stroke-width: 0.8"/>
      </g>
     </g>
     <g id="text_39">
      <text style="font-size: 11px; font-family: 'DejaVu Sans', 'Liberation Sans', sans-serif; text-anchor: end" x="543.444" y="116.515">0.4</text>
     </g>
    </g>
    <g id="ytick_23">
     <g id="line2d_43">
      <g>
       <path d="M 0 0 L -3.5 0" transform="translate(550.444 76.056)" style="stroke: #000000; stroke-width: 0.8;stroke: #000000; stroke-width: 0.8"/>
      </g>
     </g>
     <g id="text_40">
      <text style="font-size: 11px; font-family: 'DejaVu Sans', 'Liberation Sans', sans-serif; text-anchor: end" x="543.444" y="80.236">0.6</text>
     </g>
    </g>
    <g id="ytick_24">
     <g id="line2d_44">
      <g>
       <path d="M 0 0 L -3.5 0" transform="translate(550.444 39.777)" style="stroke: #000000; stroke-width: 0.8;stroke: #000000; stroke-width: 0.8"/>
      </g>
     </g>
     <g id="text_41">
      <text style="font-size: 11px; font-family: 'DejaVu Sans', 'Liberation Sans', sans-serif; text-anchor: end" x="543.444" y="43.956">0.8</text>
     </g>
    </g>
   </g>
   <g id="line2d_45">
    <path d="M 556.474 101.271 L 558.935 162.674 L 561.396 178.909 L 563.857 178.546 L 566.318 177.457 L 568.779 169.113 L 571.240 184.895 L 573.701 183.262 L 576.162 183.262 L 578.624 180.178 L 581.085 184.623 L 583.546 184.895 L 586.007 183.806 L 588.468 143.718 L 590.929 155.690 L 593.390 91.294 L 595.851 119.955 L 598.312 93.652 L 600.773 74.061 L 603.234 34.517 L 605.695 45.038 L 608.156 70.252 L 610.617 55.559 L 613.078 60.275 L 615.539 42.498 L 618.000 47.759 L 620.461 55.559 L 622.922 52.656 L 625.384 49.391 L 627.845 57.917 L 630.306 42.498 L 632.767 52.112 L 635.228 61.363 L 637.689 46.307 L 640.150 47.759 L 642.611 50.842 L 645.072 73.698 L 647.533 67.349 L 649.994 72.247 L 652.455 63.540 L 654.916 56.466 L 657.377 78.415 L 659.838 60.275 L 662.299 50.298 L 664.760 68.438 L 667.221 53.745 L 669.683 56.466 L 672.144 57.917 L 674.605 64.447 L 677.066 77.508 " clip-path="url(#p696ac3a86a)" style="fill: none; stroke: #1f77b4; stroke-width: 2; stroke-linecap: square"/>
    <g clip-path="url(#p696ac3a86a)">
     <circle cx="556.474" cy="101.271" r="2" style="stroke: #1f77b4;fill: #1f77b4; stroke: #1f77b4"/>
     <circle cx="558.935" cy="162.674" r="2" style="stroke: #1f77b4;fill: #1f77b4; stroke: #1f77b4"/>
     <circle cx="561.396" cy="178.909" r="2" style="stroke: #1f77b4;fill: #1f77b4; stroke: #1f77b4"/>
     <circle cx="563.857" cy="178.546" r="2" style="stroke: #1f77b4;fill: #1f77b4; stroke: #1f77b4"/>
     <circle cx="566.318" cy="177.457" r="2" style="stroke: #1f77b4;fill: #1f77b4; stroke: #1f77b4"/>
     <circle cx="568.779" cy="169.113" r="2" style="stroke: #1f77b4;fill: #1f77b4; stroke: #1f77b4"/>
     <circle cx="571.240" cy="184.895" r="2" style="stroke: #1f77b4;fill: #1f77b4; stroke: #1f77b4"/>
     <circle cx="573.701" cy="183.262" r="2" style="stroke: #1f77b4;fill: #1f77b4; stroke: #1f77b4"/>
     <circle cx="576.162" cy="183.262" r="2" style="stroke: #1f77b4;fill: #1f77b4; stroke: #1f77b4"/>
     <circle cx="578.624" cy="180.178" r="2" style="stroke: #1f77b4;fill: #1f77b4; stroke: #1f77b4"/>
     <circle cx="581.085" cy="184.623" r="2" style="stroke: #1f77b4;fill: #1f77b4; stroke: #1f77b4"/>
     <circle cx="583.546" cy="184.895" r="2" style="stroke: #1f77b4;fill: #1f77b4; stroke: #1f77b4"/>
     <circle cx="586.007" cy="183.806" r="2" style="stroke: #1f77b4;fill: #1f77b4; stroke: #1f77b4"/>
     <circle cx="588.468" cy="143.718" r="2" style="stroke: #1f77b4;fill: #1f77b4; stroke: #1f77b4"/>
     <circle cx="590.929" cy="155.690" r="2" style="stroke: #1f77b4;fill: #1f77b4; stroke: #1f77b4"/>
     <circle cx="593.390" cy="91.294" r="2" style="stroke: #1f77b4;fill: #1f77b4; stroke: #1f77b4"/>
     <circle cx="595.851" cy="119.955" r="2" style="stroke: #1f77b4;fill: #1f77b4; stroke: #1f77b4"/>
     <circle cx="598.312" cy="93.652" r="2" style="stroke: #1f77b4;fill: #1f77b4; stroke: #1f77b4"/>
     <circle cx="600.773" cy="74.061" r="2" style="stroke: #1f77b4;fill: #1f77b4; stroke: #1f77b4"/>
     <circle cx="603.234" cy="34.517" r="2" style="stroke: #1f77b4;fill: #1f77b4; stroke: #1f77b4"/>
     <circle cx="605.695" cy="45.038" r="2" style="stroke: #1f77b4;fill: #1f77b4; stroke: #1f77b4"/>
     <circle cx="608.156" cy="70.252" r="2" style="stroke: #1f77b4;fill: #1f77b4; stroke: #1f77b4"/>
     <circle cx="610.617" cy="55.559" r="2" style="stroke: #1f77b4;fill: #1f77b4; stroke: #1f77b4"/>
     <circle cx="613.078" cy="60.275" r="2" style="stroke: #1f77b4;fill: #1f77b4; stroke: #1f77b4"/>
     <circle cx="615.539" cy="42.498" r="2" style="stroke: #1f77b4;fill: #1f77b4; stroke: #1f77b4"/>
     <circle cx="618.000" cy="47.759" r="2" style="stroke: #1f77b4;fill: #1f77b4; stroke: #1f77b4"/>
     <circle cx="620.461" cy="55.559" r="2" style="stroke: #1f77b4;fill: #1f77b4; stroke: #1f77b4"/>
     <circle cx="622.922" cy="52.656" r="2" style="stroke: #1f77b4;fill: #1f77b4; stroke: #1f77b4"/>
     <circle cx="625.384" cy="49.391" r="2" style="stroke: #1f77b4;fill: #1f77b4; stroke: #1f77b4"/>
     <circle cx="627.845" cy="57.917" r="2" style="stroke: #1f77b4;fill: #1f77b4; stroke: #1f77b4"/>
     <circle cx="630.306" cy="42.498" r="2" style="stroke: #1f77b4;fill: #1f77b4; stroke: #1f77b4"/>
     <circle cx="632.767" cy="52.112" r="2" style="stroke: #1f77b4;fill: #1f77b4; stroke: #1f77b4"/>
     <circle cx="635.228" cy="61.363" r="2" style="stroke: #1f77b4;fill: #1f77b4; stroke: #1f77b4"/>
     <circle cx="637.689" cy="46.307" r="2" style="stroke: #1f77b4;fill: #1f77b4; stroke: #1f77b4"/>
     <circle cx="640.150" cy="47.759" r="2" style="stroke: #1f77b4;fill: #1f77b4; stroke: #1f77b4"/>
     <circle cx="642.611" cy="50.842" r="2" style="stroke: #1f77b4;fill: #1f77b4; stroke: #1f77b4"/>
     <circle cx="645.072" cy="73.698" r="2" style="stroke: #1f77b4;fill: #1f77b4; stroke: #1f77b4"/>
     <circle cx="647.533" cy="67.349" r="2" style="stroke: #1f77b4;fill: #1f77b4; stroke: #1f77b4"/>
     <circle cx="649.994" cy="72.247" r="2" style="stroke: #1f77b4;fill: #1f77b4; stroke: #1f77b4"/>
     <circle cx="652.455" cy="63.540" r="2" style="stroke: #1f77b4;fill: #1f77b4; stroke: #1f77b4"/>
     <circle cx="654.916" cy="56.466" r="2" style="stroke: #1f77b4;fill: #1f77b4; stroke: #1f77b4"/>
     <circle cx="657.377" cy="78.415" r="2" style="stroke: #1f77b4;fill: #1f77b4; stroke: #1f77b4"/>
     <circle cx="659.838" cy="60.275" r="2" style="stroke: #1f77b4;fill: #1f77b4; stroke: #1f77b4"/>
     <circle cx="662.299" cy="50.298" r="2" style="stroke: #1f77b4;fill: #1f77b4; stroke: #1f77b4"/>
     <circle cx="664.760" cy="68.438" r="2" style="stroke: #1f77b4;fill: #1f77b4; stroke: #1f77b4"/>
     <circle cx="667.221" cy="53.745" r="2" style="stroke: #1f77b4;fill: #1f77b4; stroke: #1f77b4"/>
     <circle cx="669.683" cy="56.466" r="2" style="stroke: #1f77b4;fill: #1f77b4; stroke: #1f77b4"/>
     <circle cx="672.144" cy="57.917" r="2" style="stroke: #1f77b4;fill: #1f77b4; stroke: #1f77b4"/>
     <circle cx="674.605" cy="64.447" r="2" style="stroke: #1f77b4;fill: #1f77b4; stroke: #1f77b4"/>
     <circle cx="677.066" cy="77.508" r="2" style="stroke: #1f77b4;fill: #1f77b4; stroke: #1f77b4"/>
    </g>
   </g>
   <g id="line2d_46">
    <path d="M 556.474 154.614 L 558.935 156.953 L 561.396 161.002 L 563.857 165.784 L 566.318 170.371 L 568.779 174.132 L 571.240 176.751 L 573.701 178.081 L 576.162 177.967 L 578.624 176.148 L 581.085 172.291 L 583.546 166.105 L 586.007 157.493 L 588.468 146.651 L 590.929 134.081 L 593.390 120.518 L 595.851 106.824 L 598.312 93.869 L 600.773 82.417 L 603.234 72.997 L 605.695 65.808 L 608.156 60.699 L 610.617 57.272 L 613.078 55.049 L 615.539 53.627 L 618.000 52.729 L 620.461 52.190 L 622.922 51.907 L 625.384 51.815 L 627.845 51.889 L 630.306 52.153 L 632.767 52.682 L 635.228 53.571 L 637.689 54.887 L 640.150 56.607 L 642.611 58.584 L 645.072 60.558 L 647.533 62.230 L 649.994 63.363 L 652.455 63.854 L 654.916 63.749 L 657.377 63.215 L 659.838 62.489 L 662.299 61.835 L 664.760 61.486 L 667.221 61.592 L 669.683 62.159 L 672.144 63.021 L 674.605 63.882 L 677.066 64.417 " clip-path="url(#p696ac3a86a)" style="fill: none; stroke-dasharray: 2,3.3; stroke-dashoffset: 0; stroke: #ff7f0e; stroke-width: 2"/>
   </g>
   <g id="patch_19">
    <path d="M 550.444 192.414 L 550.444 26.998 " style="fill: none; stroke: #000000; stroke-width: 0.8; stroke-linejoin: miter; stroke-linecap: square"/>
   </g>
   <g id="patch_20">
    <path d="M 683.095 192.414 L 683.095 26.998 " style="fill: none; stroke: #000000; stroke-width: 0.8; stroke-linejoin: miter; stroke-linecap: square"/>
   </g>
   <g id="patch_21">
    <path d="M 550.444 192.414 L 683.095 192.414 " style="fill: none; stroke: #000000; stroke-width: 0.8; stroke-linejoin: miter; stroke-linecap: square"/>
   </g>
   <g id="patch_22">
    <path d="M 550.444 26.998 L 683.095 26.998 " style="fill: none; stroke: #000000; stroke-width: 0.8; stroke-linejoin: miter; stroke-linecap: square"/>
   </g>
   <g id="text_42">
    <text style="font-size: 12px; font-family: 'DejaVu Sans', 'Liberation Sans', sans-serif; text-anchor: middle" x="616.770" y="20.998">metrics/precision(B)</text>
   </g>
  </g>
  <g id="axes_5">
   <g id="patch_23">
    <path d="M 719.469 192.414 L 852.12 192.414 L 852.12 26.998 L 719.469 26.998 z
" style="fill: #ffffff"/>
   </g>
   <g id="matplotlib.axis_9">
    <g id="xtick_13">
     <g id="line2d_47">
      <g>
       <path d="M 0 0 L 0 3.5" transform="translate(723.037 192.414)" style="stroke: #000000; stroke-width: 0.8;stroke: #000000; stroke-width: 0.8"/>
      </g>
     </g>
     <g id="text_43">
      <text style="font-size: 11px; font-family: 'DejaVu Sans', 'Liberation Sans', sans-serif; text-anchor: middle" x="723.037" y="207.772">0</text>
     </g>
    </g>
    <g id="xtick_14">
     <g id="line2d_48">
      <g>
       <path d="M 0 0 L 0 3.5" transform="translate(772.258 192.414)" style="stroke: #000000; stroke-width: 0.8;stroke: #000000; stroke-width: 0.8"/>
      </g>
     </g>
     <g id="text_44">
      <text style="font-size: 11px; font-family: 'DejaVu Sans', 'Liberation Sans', sans-serif; text-anchor: middle" x="772.258" y="207.772">20</text>
     </g>
    </g>
    <g id="xtick_15">
     <g id="line2d_49">
      <g>
       <path d="M 0 0 L 0 3.5" transform="translate(821.479 192.414)" style="stroke: #000000; stroke-width: 0.8;stroke: #000000; stroke-width: 0.8"/>
      </g>
     </g>
     <g id="text_45">
      <text style="font-size: 11px; font-family: 'DejaVu Sans', 'Liberation Sans', sans-serif; text-anchor: middle" x="821.479" y="207.772">40</text>
     </g>
    </g>
   </g>
   <g id="matplotlib.axis_10">
    <g id="ytick_25">
     <g id="line2d_50">
      <g>
       <path d="M 0 0 L -3.5 0" transform="translate(719.469 188.935)" style="stroke: #000000; stroke-width: 0.8;stroke: #000000; stroke-width: 0.8"/>
      </g>
     </g>
     <g id="text_46">
      <text style="font-size: 11px; font-family: 'DejaVu Sans', 'Liberation Sans', sans-serif; text-anchor: end" x="712.469" y="193.114">0.0</text>
     </g>
    </g>
    <g id="ytick_26">
     <g id="line2d_51">
      <g>
       <path d="M 0 0 L -3.5 0" transform="translate(719.469 145.252)" style="stroke: #000000; stroke-width: 0.8;stroke: #000000; stroke-width: 0.8"/>
      </g>
     </g>
     <g id="text_47">
      <text style="font-size: 11px; font-family: 'DejaVu Sans', 'Liberation Sans', sans-serif; text-anchor: end" x="712.469" y="149.432">0.2</text>
     </g>
    </g>
    <g id="ytick_27">
     <g id="line2d_52">
      <g>
       <path d="M 0 0 L -3.5 0" transform="translate(719.469 101.570)" style="stroke: #000000; stroke-width: 0.8;stroke: #000000; stroke-width: 0.8"/>
      </g>
     </g>
     <g id="text_48">
      <text style="font-size: 11px; font-family: 'DejaVu Sans', 'Liberation Sans', sans-serif; text-anchor: end" x="712.469" y="105.749">0.4</text>
     </g>
    </g>
    <g id="ytick_28">
     <g id="line2d_53">
      <g>
       <path d="M 0 0 L -3.5 0" transform="translate(719.469 57.887)" style="stroke: #000000; stroke-width: 0.8;stroke: #000000; stroke-width: 0.8"/>
      </g>
     </g>
     <g id="text_49">
      <text style="font-size: 11px; font-family: 'DejaVu Sans', 'Liberation Sans', sans-serif; text-anchor: end" x="712.469" y="62.066">0.6</text>
     </g>
    </g>
   </g>
   <g id="line2d_54">
    <path d="M 725.498 97.420 L 727.959 77.981 L 730.420 91.959 L 732.881 63.784 L 735.342 87.810 L 737.804 151.368 L 740.265 184.895 L 742.726 164.910 L 745.187 91.959 L 747.648 97.638 L 750.109 164.910 L 752.570 183.038 L 755.031 135.642 L 757.492 93.707 L 759.953 91.523 L 762.414 81.912 L 764.875 131.492 L 767.336 97.638 L 769.797 73.613 L 772.258 81.476 L 774.719 64.002 L 777.180 40.414 L 779.641 72.302 L 782.103 75.797 L 784.564 93.707 L 787.025 73.503 L 789.486 53.955 L 791.947 68.152 L 794.408 66.187 L 796.869 49.478 L 799.330 66.187 L 801.791 63.566 L 804.252 56.576 L 806.713 55.921 L 809.174 57.013 L 811.635 66.187 L 814.096 60.945 L 816.557 52.645 L 819.018 42.816 L 821.479 55.921 L 823.940 70.118 L 826.401 48.495 L 828.863 62.037 L 831.324 57.668 L 833.785 43.690 L 836.246 62.037 L 838.707 57.450 L 841.168 62.037 L 843.629 52.099 L 846.090 34.517 " clip-path="url(#p1779c1c7cb)" style="fill: none; stroke: #1f77b4; stroke-width: 2; stroke-linecap: square"/>
    <g clip-path="url(#p1779c1c7cb)">
     <circle cx="725.498" cy="97.420" r="2" style="stroke: #1f77b4;fill: #1f77b4; stroke: #1f77b4"/>
     <circle cx="727.959" cy="77.981" r="2" style="stroke: #1f77b4;fill: #1f77b4; stroke: #1f77b4"/>
     <circle cx="730.420" cy="91.959" r="2" style="stroke: #1f77b4;fill: #1f77b4; stroke: #1f77b4"/>
     <circle cx="732.881" cy="63.784" r="2" style="stroke: #1f77b4;fill: #1f77b4; stroke: #1f77b4"/>
     <circle cx="735.342" cy="87.810" r="2" style="stroke: #1f77b4;fill: #1f77b4; stroke: #1f77b4"/>
     <circle cx="737.804" cy="151.368" r="2" style="stroke: #1f77b4;fill: #1f77b4; stroke: #1f77b4"/>
     <circle cx="740.265" cy="184.895" r="2" style="stroke: #1f77b4;fill: #1f77b4; stroke: #1f77b4"/>
     <circle cx="742.726" cy="164.910" r="2" style="stroke: #1f77b4;fill: #1f77b4; stroke: #1f77b4"/>
     <circle cx="745.187" cy="91.959" r="2" style="stroke: #1f77b4;fill: #1f77b4; stroke: #1f77b4"/>
     <circle cx="747.648" cy="97.638" r="2" style="stroke: #1f77b4;fill: #1f77b4; stroke: #1f77b4"/>
     <circle cx="750.109" cy="164.910" r="2" style="stroke: #1f77b4;fill: #1f77b4; stroke: #1f77b4"/>
     <circle cx="752.570" cy="183.038" r="2" style="stroke: #1f77b4;fill: #1f77b4; stroke: #1f77b4"/>
     <circle cx="755.031" cy="135.642" r="2" style="stroke: #1f77b4;fill: #1f77b4; stroke: #1f77b4"/>
     <circle cx="757.492" cy="93.707" r="2" style="stroke: #1f77b4;fill: #1f77b4; stroke: #1f77b4"/>
     <circle cx="759.953" cy="91.523" r="2" style="stroke: #1f77b4;fill: #1f77b4; stroke: #1f77b4"/>
     <circle cx="762.414" cy="81.912" r="2" style="stroke: #1f77b4;fill: #1f77b4; stroke: #1f77b4"/>
     <circle cx="764.875" cy="131.492" r="2" style="stroke: #1f77b4;fill: #1f77b4; stroke: #1f77b4"/>
     <circle cx="767.336" cy="97.638" r="2" style="stroke: #1f77b4;fill: #1f77b4; stroke: #1f77b4"/>
     <circle cx="769.797" cy="73.613" r="2" style="stroke: #1f77b4;fill: #1f77b4; stroke: #1f77b4"/>
     <circle cx="772.258" cy="81.476" r="2" style="stroke: #1f77b4;fill: #1f77b4; stroke: #1f77b4"/>
     <circle cx="774.719" cy="64.002" r="2" style="stroke: #1f77b4;fill: #1f77b4; stroke: #1f77b4"/>
     <circle cx="777.180" cy="40.414" r="2" style="stroke: #1f77b4;fill: #1f77b4; stroke: #1f77b4"/>
     <circle cx="779.641" cy="72.302" r="2" style="stroke: #1f77b4;fill: #1f77b4; stroke: #1f77b4"/>
     <circle cx="782.103" cy="75.797" r="2" style="stroke: #1f77b4;fill: #1f77b4; stroke: #1f77b4"/>
     <circle cx="784.564" cy="93.707" r="2" style="stroke: #1f77b4;fill: #1f77b4; stroke: #1f77b4"/>
     <circle cx="787.025" cy="73.503" r="2" style="stroke: #1f77b4;fill: #1f77b4; stroke: #1f77b4"/>
     <circle cx="789.486" cy="53.955" r="2" style="stroke: #1f77b4;fill: #1f77b4; stroke: #1f77b4"/>
     <circle cx="791.947" cy="68.152" r="2" style="stroke: #1f77b4;fill: #1f77b4; stroke: #1f77b4"/>
     <circle cx="794.408" cy="66.187" r="2" style="stroke: #1f77b4;fill: #1f77b4; stroke: #1f77b4"/>
     <circle cx="796.869" cy="49.478" r="2" style="stroke: #1f77b4;fill: #1f77b4; stroke: #1f77b4"/>
     <circle cx="799.330" cy="66.187" r="2" style="stroke: #1f77b4;fill: #1f77b4; stroke: #1f77b4"/>
     <circle cx="801.791" cy="63.566" r="2" style="stroke: #1f77b4;fill: #1f77b4; stroke: #1f77b4"/>
     <circle cx="804.252" cy="56.576" r="2" style="stroke: #1f77b4;fill: #1f77b4; stroke: #1f77b4"/>
     <circle cx="806.713" cy="55.921" r="2" style="stroke: #1f77b4;fill: #1f77b4; stroke: #1f77b4"/>
     <circle cx="809.174" cy="57.013" r="2" style="stroke: #1f77b4;fill: #1f77b4; stroke: #1f77b4"/>
     <circle cx="811.635" cy="66.187" r="2" style="stroke: #1f77b4;fill: #1f77b4; stroke: #1f77b4"/>
     <circle cx="814.096" cy="60.945" r="2" style="stroke: #1f77b4;fill: #1f77b4; stroke: #1f77b4"/>
     <circle cx="816.557" cy="52.645" r="2" style="stroke: #1f77b4;fill: #1f77b4; stroke: #1f77b4"/>
     <circle cx="819.018" cy="42.816" r="2" style="stroke: #1f77b4;fill: #1f77b4; stroke: #1f77b4"/>
     <circle cx="821.479" cy="55.921" r="2" style="stroke: #1f77b4;fill: #1f77b4; stroke: #1f77b4"/>
     <circle cx="823.940" cy="70.118" r="2" style="stroke: #1f77b4;fill: #1f77b4; stroke: #1f77b4"/>
     <circle cx="826.401" cy="48.495" r="2" style="stroke: #1f77b4;fill: #1f77b4; stroke: #1f77b4"/>
     <circle cx="828.863" cy="62.037" r="2" style="stroke: #1f77b4;fill: #1f77b4; stroke: #1f77b4"/>
     <circle cx="831.324" cy="57.668" r="2" style="stroke: #1f77b4;fill: #1f77b4; stroke: #1f77b4"/>
     <circle cx="833.785" cy="43.690" r="2" style="stroke: #1f77b4;fill: #1f77b4; stroke: #1f77b4"/>
     <circle cx="836.246" cy="62.037" r="2" style="stroke: #1f77b4;fill: #1f77b4; stroke: #1f77b4"/>
     <circle cx="838.707" cy="57.450" r="2" style="stroke: #1f77b4;fill: #1f77b4; stroke: #1f77b4"/>
     <circle cx="841.168" cy="62.037" r="2" style="stroke: #1f77b4;fill: #1f77b4; stroke: #1f77b4"/>
     <circle cx="843.629" cy="52.099" r="2" style="stroke: #1f77b4;fill: #1f77b4; stroke: #1f77b4"/>
     <circle cx="846.090" cy="34.517" r="2" style="stroke: #1f77b4;fill: #1f77b4; stroke: #1f77b4"/>
    </g>
   </g>
   <g id="line2d_55">
    <path d="M 725.498 92.468 L 727.959 94.708 L 730.420 99.106 L 732.881 105.324 L 735.342 112.619 L 737.804 119.918 L 740.265 126.143 L 742.726 130.559 L 745.187 132.887 L 747.648 133.165 L 750.109 131.517 L 752.570 128.081 L 755.031 123.100 L 757.492 117.009 L 759.953 110.365 L 762.414 103.644 L 764.875 97.120 L 767.336 90.911 L 769.797 85.156 L 772.258 80.123 L 774.719 76.132 L 777.180 73.361 L 779.641 71.685 L 782.103 70.690 L 784.564 69.859 L 787.025 68.798 L 789.486 67.381 L 791.947 65.725 L 794.408 64.058 L 796.869 62.579 L 799.330 61.383 L 801.791 60.458 L 804.252 59.728 L 806.713 59.098 L 809.174 58.491 L 811.635 57.877 L 814.096 57.287 L 816.557 56.790 L 819.018 56.451 L 821.479 56.280 L 823.940 56.218 L 826.401 56.167 L 828.863 56.031 L 831.324 55.735 L 833.785 55.228 L 836.246 54.475 L 838.707 53.495 L 841.168 52.407 L 843.629 51.442 L 846.090 50.867 " clip-path="url(#p1779c1c7cb)" style="fill: none; stroke-dasharray: 2,3.3; stroke-dashoffset: 0; stroke: #ff7f0e; stroke-width: 2"/>
   </g>
   <g id="patch_24">
    <path d="M 719.469 192.414 L 719.469 26.998 " style="fill: none; stroke: #000000; stroke-width: 0.8; stroke-linejoin: miter; stroke-linecap: square"/>
   </g>
   <g id="patch_25">
    <path d="M 852.12 192.414 L 852.12 26.998 " style="fill: none; stroke: #000000; stroke-width: 0.8; stroke-linejoin: miter; stroke-linecap: square"/>
   </g>
   <g id="patch_26">
    <path d="M 719.469 192.414 L 852.12 192.414 " style="fill: none; stroke: #000000; stroke-width: 0.8; stroke-linejoin: miter; stroke-linecap: square"/>
   </g>
   <g id="patch_27">
    <path d="M 719.469 26.998 L 852.12 26.998 " style="fill: none; stroke: #000000; stroke-width: 0.8; stroke-linejoin: miter; stroke-linecap: square"/>
   </g>
   <g id="text_50">
    <text style="font-size: 12px; font-family: 'DejaVu Sans', 'Liberation Sans', sans-serif; text-anchor: middle" x="785.794" y="20.998">metrics/recall(B)</text>
   </g>
  </g>
  <g id="axes_6">
   <g id="patch_28">
    <path d="M 43.372 402.474 L 176.023 402.474 L 176.023 237.058 L 43.372 237.058 z
" style="fill: #ffffff"/>
   </g>
   <g id="matplotlib.axis_11">
    <g id="xtick_16">
     <g id="line2d_56">
      <g>
       <path d="M 0 0 L 0 3.5" transform="translate(46.940 402.474)" style="stroke: #000000; stroke-width: 0.8;stroke: #000000; stroke-width: 0.8"/>
      </g>
     </g>
     <g id="text_51">
      <text style="font-size: 11px; font-family: 'DejaVu Sans', 'Liberation Sans', sans-serif; text-anchor: middle" x="46.940" y="417.832">0</text>
     </g>
    </g>
    <g id="xtick_17">
     <g id="line2d_57">
      <g>
       <path d="M 0 0 L 0 3.5" transform="translate(96.161 402.474)" style="stroke: #000000; stroke-width: 0.8;stroke: #000000; stroke-width: 0.8"/>
      </g>
     </g>
     <g id="text_52">
      <text style="font-size: 11px; font-family: 'DejaVu Sans', 'Liberation Sans', sans-serif; text-anchor: middle" x="96.161" y="417.832">20</text>
     </g>
    </g>
    <g id="xtick_18">
     <g id="line2d_58">
      <g>
       <path d="M 0 0 L 0 3.5" transform="translate(145.382 402.474)" style="stroke: #000000; stroke-width: 0.8;stroke: #000000; stroke-width: 0.8"/>
      </g>
     </g>
     <g id="text_53">
      <text style="font-size: 11px; font-family: 'DejaVu Sans', 'Liberation Sans', sans-serif; text-anchor: middle" x="145.382" y="417.832">40</text>
     </g>
    </g>
   </g>
   <g id="matplotlib.axis_12">
    <g id="ytick_29">
     <g id="line2d_59">
      <g>
       <path d="M 0 0 L -3.5 0" transform="translate(43.372 387.001)" style="stroke: #000000; stroke-width: 0.8;stroke: #000000; stroke-width: 0.8"/>
      </g>
     </g>
     <g id="text_54">
      <text style="font-size: 11px; font-family: 'DejaVu Sans', 'Liberation Sans', sans-serif; text-anchor: end" x="36.372" y="391.180">2.00</text>
     </g>
    </g>
    <g id="ytick_30">
     <g id="line2d_60">
      <g>
       <path d="M 0 0 L -3.5 0" transform="translate(43.372 360.489)" style="stroke: #000000; stroke-width: 0.8;stroke: #000000; stroke-width: 0.8"/>
      </g>
     </g>
     <g id="text_55">
      <text style="font-size: 11px; font-family: 'DejaVu Sans', 'Liberation Sans', sans-serif; text-anchor: end" x="36.372" y="364.668">2.25</text>
     </g>
    </g>
    <g id="ytick_31">
     <g id="line2d_61">
      <g>
       <path d="M 0 0 L -3.5 0" transform="translate(43.372 333.976)" style="stroke: #000000; stroke-width: 0.8;stroke: #000000; stroke-width: 0.8"/>
      </g>
     </g>
     <g id="text_56">
      <text style="font-size: 11px; font-family: 'DejaVu Sans', 'Liberation Sans', sans-serif; text-anchor: end" x="36.372" y="338.155">2.50</text>
     </g>
    </g>
    <g id="ytick_32">
     <g id="line2d_62">
      <g>
       <path d="M 0 0 L -3.5 0" transform="translate(43.372 307.464)" style="stroke: #000000; stroke-width: 0.8;stroke: #000000; stroke-width: 0.8"/>
      </g>
     </g>
     <g id="text_57">
      <text style="font-size: 11px; font-family: 'DejaVu Sans', 'Liberation Sans', sans-serif; text-anchor: end" x="36.372" y="311.643">2.75</text>
     </g>
    </g>
    <g id="ytick_33">
     <g id="line2d_63">
      <g>
       <path d="M 0 0 L -3.5 0" transform="translate(43.372 280.951)" style="stroke: #000000; stroke-width: 0.8;stroke: #000000; stroke-width: 0.8"/>
      </g>
     </g>
     <g id="text_58">
      <text style="font-size: 11px; font-family: 'DejaVu Sans', 'Liberation Sans', sans-serif; text-anchor: end" x="36.372" y="285.131">3.00</text>
     </g>
    </g>
    <g id="ytick_34">
     <g id="line2d_64">
      <g>
       <path d="M 0 0 L -3.5 0" transform="translate(43.372 254.439)" style="stroke: #000000; stroke-width: 0.8;stroke: #000000; stroke-width: 0.8"/>
      </g>
     </g>
     <g id="text_59">
      <text style="font-size: 11px; font-family: 'DejaVu Sans', 'Liberation Sans', sans-serif; text-anchor: end" x="36.372" y="258.618">3.25</text>
     </g>
    </g>
   </g>
   <g id="line2d_65">
    <path d="M 49.401 367.382 L 51.862 380.850 L 54.323 384.880 L 56.784 380.002 L 59.245 380.532 L 61.707 332.916 L 64.168 244.577 L 66.629 316.796 L 69.090 353.277 L 71.551 343.945 L 74.012 260.060 L 76.473 248.606 L 78.934 361.019 L 81.395 369.821 L 83.856 361.019 L 86.317 370.881 L 88.778 369.397 L 91.239 378.623 L 93.700 377.881 L 96.161 394.955 L 98.622 384.880 L 101.083 393.682 L 103.544 392.303 L 106.006 373.002 L 108.467 373.851 L 110.928 373.321 L 113.389 379.577 L 115.850 371.200 L 118.311 376.820 L 120.772 373.851 L 123.233 380.320 L 125.694 366.321 L 128.155 369.079 L 130.616 378.623 L 133.077 372.048 L 135.538 380.850 L 137.999 372.048 L 140.460 383.501 L 142.921 379.100 L 145.382 375.229 L 147.843 380.850 L 150.304 377.881 L 152.766 370.351 L 155.227 379.577 L 157.688 383.183 L 160.149 380.850 L 162.610 378.199 L 165.071 380.850 L 167.532 384.721 L 169.993 384.350 " clip-path="url(#pc8ee0f535e)" style="fill: none; stroke: #1f77b4; stroke-width: 2; stroke-linecap: square"/>
    <g clip-path="url(#pc8ee0f535e)">
     <circle cx="49.401" cy="367.382" r="2" style="stroke: #1f77b4;fill: #1f77b4; stroke: #1f77b4"/>
     <circle cx="51.862" cy="380.850" r="2" style="stroke: #1f77b4;fill: #1f77b4; stroke: #1f77b4"/>
     <circle cx="54.323" cy="384.880" r="2" style="stroke: #1f77b4;fill: #1f77b4; stroke: #1f77b4"/>
     <circle cx="56.784" cy="380.002" r="2" style="stroke: #1f77b4;fill: #1f77b4; stroke: #1f77b4"/>
     <circle cx="59.245" cy="380.532" r="2" style="stroke: #1f77b4;fill: #1f77b4; stroke: #1f77b4"/>
     <circle cx="61.707" cy="332.916" r="2" style="stroke: #1f77b4;fill: #1f77b4; stroke: #1f77b4"/>
     <circle cx="64.168" cy="244.577" r="2" style="stroke: #1f77b4;fill: #1f77b4; stroke: #1f77b4"/>
     <circle cx="66.629" cy="316.796" r="2" style="stroke: #1f77b4;fill: #1f77b4; stroke: #1f77b4"/>
     <circle cx="69.090" cy="353.277" r="2" style="stroke: #1f77b4;fill: #1f77b4; stroke: #1f77b4"/>
     <circle cx="71.551" cy="343.945" r="2" style="stroke: #1f77b4;fill: #1f77b4; stroke: #1f77b4"/>
     <circle cx="74.012" cy="260.060" r="2" style="stroke: #1f77b4;fill: #1f77b4; stroke: #1f77b4"/>
     <circle cx="76.473" cy="248.606" r="2" style="stroke: #1f77b4;fill: #1f77b4; stroke: #1f77b4"/>
     <circle cx="78.934" cy="361.019" r="2" style="stroke: #1f77b4;fill: #1f77b4; stroke: #1f77b4"/>
     <circle cx="81.395" cy="369.821" r="2" style="stroke: #1f77b4;fill: #1f77b4; stroke: #1f77b4"/>
     <circle cx="83.856" cy="361.019" r="2" style="stroke: #1f77b4;fill: #1f77b4; stroke: #1f77b4"/>
     <circle cx="86.317" cy="370.881" r="2" style="stroke: #1f77b4;fill: #1f77b4; stroke: #1f77b4"/>
     <circle cx="88.778" cy="369.397" r="2" style="stroke: #1f77b4;fill: #1f77b4; stroke: #1f77b4"/>
     <circle cx="91.239" cy="378.623" r="2" style="stroke: #1f77b4;fill: #1f77b4; stroke: #1f77b4"/>
     <circle cx="93.700" cy="377.881" r="2" style="stroke: #1f77b4;fill: #1f77b4; stroke: #1f77b4"/>
     <circle cx="96.161" cy="394.955" r="2" style="stroke: #1f77b4;fill: #1f77b4; stroke: #1f77b4"/>
     <circle cx="98.622" cy="384.880" r="2" style="stroke: #1f77b4;fill: #1f77b4; stroke: #1f77b4"/>
     <circle cx="101.083" cy="393.682" r="2" style="stroke: #1f77b4;fill: #1f77b4; stroke: #1f77b4"/>
     <circle cx="103.544" cy="392.303" r="2" style="stroke: #1f77b4;fill: #1f77b4; stroke: #1f77b4"/>
     <circle cx="106.006" cy="373.002" r="2" style="stroke: #1f77b4;fill: #1f77b4; stroke: #1f77b4"/>
     <circle cx="108.467" cy="373.851" r="2" style="stroke: #1f77b4;fill: #1f77b4; stroke: #1f77b4"/>
     <circle cx="110.928" cy="373.321" r="2" style="stroke: #1f77b4;fill: #1f77b4; stroke: #1f77b4"/>
     <circle cx="113.389" cy="379.577" r="2" style="stroke: #1f77b4;fill: #1f77b4; stroke: #1f77b4"/>
     <circle cx="115.850" cy="371.200" r="2" style="stroke: #1f77b4;fill: #1f77b4; stroke: #1f77b4"/>
     <circle cx="118.311" cy="376.820" r="2" style="stroke: #1f77b4;fill: #1f77b4; stroke: #1f77b4"/>
     <circle cx="120.772" cy="373.851" r="2" style="stroke: #1f77b4;fill: #1f77b4; stroke: #1f77b4"/>
     <circle cx="123.233" cy="380.320" r="2" style="stroke: #1f77b4;fill: #1f77b4; stroke: #1f77b4"/>
     <circle cx="125.694" cy="366.321" r="2" style="stroke: #1f77b4;fill: #1f77b4; stroke: #1f77b4"/>
     <circle cx="128.155" cy="369.079" r="2" style="stroke: #1f77b4;fill: #1f77b4; stroke: #1f77b4"/>
     <circle cx="130.616" cy="378.623" r="2" style="stroke: #1f77b4;fill: #1f77b4; stroke: #1f77b4"/>
     <circle cx="133.077" cy="372.048" r="2" style="stroke: #1f77b4;fill: #1f77b4; stroke: #1f77b4"/>
     <circle cx="135.538" cy="380.850" r="2" style="stroke: #1f77b4;fill: #1f77b4; stroke: #1f77b4"/>
     <circle cx="137.999" cy="372.048" r="2" style="stroke: #1f77b4;fill: #1f77b4; stroke: #1f77b4"/>
     <circle cx="140.460" cy="383.501" r="2" style="stroke: #1f77b4;fill: #1f77b4; stroke: #1f77b4"/>
     <circle cx="142.921" cy="379.100" r="2" style="stroke: #1f77b4;fill: #1f77b4; stroke: #1f77b4"/>
     <circle cx="145.382" cy="375.229" r="2" style="stroke: #1f77b4;fill: #1f77b4; stroke: #1f77b4"/>
     <circle cx="147.843" cy="380.850" r="2" style="stroke: #1f77b4;fill: #1f77b4; stroke: #1f77b4"/>
     <circle cx="150.304" cy="377.881" r="2" style="stroke: #1f77b4;fill: #1f77b4; stroke: #1f77b4"/>
     <circle cx="152.766" cy="370.351" r="2" style="stroke: #1f77b4;fill: #1f77b4; stroke: #1f77b4"/>
     <circle cx="155.227" cy="379.577" r="2" style="stroke: #1f77b4;fill: #1f77b4; stroke: #1f77b4"/>
     <circle cx="157.688" cy="383.183" r="2" style="stroke: #1f77b4;fill: #1f77b4; stroke: #1f77b4"/>
     <circle cx="160.149" cy="380.850" r="2" style="stroke: #1f77b4;fill: #1f77b4; stroke: #1f77b4"/>
     <circle cx="162.610" cy="378.199" r="2" style="stroke: #1f77b4;fill: #1f77b4; stroke: #1f77b4"/>
     <circle cx="165.071" cy="380.850" r="2" style="stroke: #1f77b4;fill: #1f77b4; stroke: #1f77b4"/>
     <circle cx="167.532" cy="384.721" r="2" style="stroke: #1f77b4;fill: #1f77b4; stroke: #1f77b4"/>
     <circle cx="169.993" cy="384.350" r="2" style="stroke: #1f77b4;fill: #1f77b4; stroke: #1f77b4"/>
    </g>
   </g>
   <g id="line2d_66">
    <path d="M 49.401 370.749 L 51.862 368.319 L 54.323 363.491 L 56.784 356.520 L 59.245 348.057 L 61.707 339.139 L 64.168 330.950 L 66.629 324.523 L 69.090 320.593 L 71.551 319.602 L 74.012 321.731 L 76.473 326.836 L 78.934 334.339 L 81.395 343.254 L 83.856 352.438 L 86.317 360.919 L 88.778 368.113 L 91.239 373.814 L 93.700 378.035 L 96.161 380.852 L 98.622 382.347 L 101.083 382.652 L 103.544 382.003 L 106.006 380.737 L 108.467 379.228 L 110.928 377.785 L 113.389 376.592 L 115.850 375.694 L 118.311 375.050 L 120.772 374.609 L 123.233 374.351 L 125.694 374.297 L 128.155 374.476 L 130.616 374.883 L 133.077 375.464 L 135.538 376.119 L 137.999 376.738 L 140.460 377.234 L 142.921 377.576 L 145.382 377.789 L 147.843 377.952 L 150.304 378.156 L 152.766 378.478 L 155.227 378.948 L 157.688 379.548 L 160.149 380.224 L 162.610 380.906 L 165.071 381.516 L 167.532 381.979 L 169.993 382.230 " clip-path="url(#pc8ee0f535e)" style="fill: none; stroke-dasharray: 2,3.3; stroke-dashoffset: 0; stroke: #ff7f0e; stroke-width: 2"/>
   </g>
   <g id="patch_29">
    <path d="M 43.372 402.474 L 43.372 237.058 " style="fill: none; stroke: #000000; stroke-width: 0.8; stroke-linejoin: miter; stroke-linecap: square"/>
   </g>
   <g id="patch_30">
    <path d="M 176.023 402.474 L 176.023 237.058 " style="fill: none; stroke: #000000; stroke-width: 0.8; stroke-linejoin: miter; stroke-linecap: square"/>
   </g>
   <g id="patch_31">
    <path d="M 43.372 402.474 L 176.023 402.474 " style="fill: none; stroke: #000000; stroke-width: 0.8; stroke-linejoin: miter; stroke-linecap: square"/>
   </g>
   <g id="patch_32">
    <path d="M 43.372 237.058 L 176.023 237.058 " style="fill: none; stroke: #000000; stroke-width: 0.8; stroke-linejoin: miter; stroke-linecap: square"/>
   </g>
   <g id="text_60">
    <text style="font-size: 12px; font-family: 'DejaVu Sans', 'Liberation Sans', sans-serif; text-anchor: middle" x="109.697" y="231.058">val/box_loss</text>
   </g>
  </g>
  <g id="axes_7">
   <g id="patch_33">
    <path d="M 212.396 402.474 L 345.047 402.474 L 345.047 237.058 L 212.396 237.058 z
" style="fill: #ffffff"/>
   </g>
   <g id="matplotlib.axis_13">
    <g id="xtick_19">
     <g id="line2d_67">
      <g>
       <path d="M 0 0 L 0 3.5" transform="translate(215.964 402.474)" style="stroke: #000000; stroke-width: 0.8;stroke: #000000; stroke-width: 0.8"/>
      </g>
     </g>
     <g id="text_61">
      <text style="font-size: 11px; font-family: 'DejaVu Sans', 'Liberation Sans', sans-serif; text-anchor: middle" x="215.964" y="417.832">0</text>
     </g>
    </g>
    <g id="xtick_20">
     <g id="line2d_68">
      <g>
       <path d="M 0 0 L 0 3.5" transform="translate(265.186 402.474)" style="stroke: #000000; stroke-width: 0.8;stroke: #000000; stroke-width: 0.8"/>
      </g>
     </g>
     <g id="text_62">
      <text style="font-size: 11px; font-family: 'DejaVu Sans', 'Liberation Sans', sans-serif; text-anchor: middle" x="265.186" y="417.832">20</text>
     </g>
    </g>
    <g id="xtick_21">
     <g id="line2d_69">
      <g>
       <path d="M 0 0 L 0 3.5" transform="translate(314.407 402.474)" style="stroke: #000000; stroke-width: 0.8;stroke: #000000; stroke-width: 0.8"/>
      </g>
     </g>
     <g id="text_63">
      <text style="font-size: 11px; font-family: 'DejaVu Sans', 'Liberation Sans', sans-serif; text-anchor: middle" x="314.407" y="417.832">40</text>
     </g>
    </g>
   </g>
   <g id="matplotlib.axis_14">
    <g id="ytick_35">
     <g id="line2d_70">
      <g>
       <path d="M 0 0 L -3.5 0" transform="translate(212.396 396.581)" style="stroke: #000000; stroke-width: 0.8;stroke: #000000; stroke-width: 0.8"/>
      </g>
     </g>
     <g id="text_64">
      <text style="font-size: 11px; font-family: 'DejaVu Sans', 'Liberation Sans', sans-serif; text-anchor: end" x="205.396" y="400.760">0</text>
     </g>
    </g>
    <g id="ytick_36">
     <g id="line2d_71">
      <g>
       <path d="M 0 0 L -3.5 0" transform="translate(212.396 362.346)" style="stroke: #000000; stroke-width: 0.8;stroke: #000000; stroke-width: 0.8"/>
      </g>
     </g>
     <g id="text_65">
      <text style="font-size: 11px; font-family: 'DejaVu Sans', 'Liberation Sans', sans-serif; text-anchor: end" x="205.396" y="366.525">20</text>
     </g>
    </g>
    <g id="ytick_37">
     <g id="line2d_72">
      <g>
       <path d="M 0 0 L -3.5 0" transform="translate(212.396 328.110)" style="stroke: #000000; stroke-width: 0.8;stroke: #000000; stroke-width: 0.8"/>
      </g>
     </g>
     <g id="text_66">
      <text style="font-size: 11px; font-family: 'DejaVu Sans', 'Liberation Sans', sans-serif; text-anchor: end" x="205.396" y="332.290">40</text>
     </g>
    </g>
    <g id="ytick_38">
     <g id="line2d_73">
      <g>
       <path d="M 0 0 L -3.5 0" transform="translate(212.396 293.875)" style="stroke: #000000; stroke-width: 0.8;stroke: #000000; stroke-width: 0.8"/>
      </g>
     </g>
     <g id="text_67">
      <text style="font-size: 11px; font-family: 'DejaVu Sans', 'Liberation Sans', sans-serif; text-anchor: end" x="205.396" y="298.054">60</text>
     </g>
    </g>
    <g id="ytick_39">
     <g id="line2d_74">
      <g>
       <path d="M 0 0 L -3.5 0" transform="translate(212.396 259.640)" style="stroke: #000000; stroke-width: 0.8;stroke: #000000; stroke-width: 0.8"/>
      </g>
     </g>
     <g id="text_68">
      <text style="font-size: 11px; font-family: 'DejaVu Sans', 'Liberation Sans', sans-serif; text-anchor: end" x="205.396" y="263.819">80</text>
     </g>
    </g>
   </g>
   <g id="line2d_75">
    <path d="M 218.426 393.209 L 220.887 372.959 L 223.348 280.866 M 228.270 320.579 L 230.731 391.274 L 233.192 244.577 L 235.653 340.093 M 240.575 367.652 M 250.419 393.260 L 252.880 392.301 L 255.341 394.013 L 257.802 392.815 L 260.263 393.671 L 262.724 394.356 L 265.186 394.869 L 267.647 394.955 L 270.108 394.955 L 272.569 394.869 L 275.030 394.783 L 277.491 394.698 L 279.952 394.698 L 282.413 394.612 L 284.874 394.527 L 287.335 394.527 L 289.796 394.527 L 292.257 394.527 L 294.718 394.527 L 297.179 394.527 L 299.640 394.612 L 302.101 394.527 L 304.562 394.356 L 307.023 394.441 L 309.485 394.527 L 311.946 394.612 L 314.407 394.612 L 316.868 394.527 L 319.329 394.612 L 321.790 394.698 L 324.251 394.612 L 326.712 394.527 L 329.173 394.527 L 331.634 394.441 L 334.095 394.356 L 336.556 394.356 L 339.017 394.356 " clip-path="url(#p858fa48806)" style="fill: none; stroke: #1f77b4; stroke-width: 2; stroke-linecap: square"/>
    <g clip-path="url(#p858fa48806)">
     <circle cx="218.426" cy="393.209" r="2" style="stroke: #1f77b4;fill: #1f77b4; stroke: #1f77b4"/>
     <circle cx="220.887" cy="372.959" r="2" style="stroke: #1f77b4;fill: #1f77b4; stroke: #1f77b4"/>
     <circle cx="223.348" cy="280.866" r="2" style="stroke: #1f77b4;fill: #1f77b4; stroke: #1f77b4"/>
     <circle cx="228.270" cy="320.579" r="2" style="stroke: #1f77b4;fill: #1f77b4; stroke: #1f77b4"/>
     <circle cx="230.731" cy="391.274" r="2" style="stroke: #1f77b4;fill: #1f77b4; stroke: #1f77b4"/>
     <circle cx="233.192" cy="244.577" r="2" style="stroke: #1f77b4;fill: #1f77b4; stroke: #1f77b4"/>
     <circle cx="235.653" cy="340.093" r="2" style="stroke: #1f77b4;fill: #1f77b4; stroke: #1f77b4"/>
     <circle cx="240.575" cy="367.652" r="2" style="stroke: #1f77b4;fill: #1f77b4; stroke: #1f77b4"/>
     <circle cx="250.419" cy="393.260" r="2" style="stroke: #1f77b4;fill: #1f77b4; stroke: #1f77b4"/>
     <circle cx="252.880" cy="392.301" r="2" style="stroke: #1f77b4;fill: #1f77b4; stroke: #1f77b4"/>
     <circle cx="255.341" cy="394.013" r="2" style="stroke: #1f77b4;fill: #1f77b4; stroke: #1f77b4"/>
     <circle cx="257.802" cy="392.815" r="2" style="stroke: #1f77b4;fill: #1f77b4; stroke: #1f77b4"/>
     <circle cx="260.263" cy="393.671" r="2" style="stroke: #1f77b4;fill: #1f77b4; stroke: #1f77b4"/>
     <circle cx="262.724" cy="394.356" r="2" style="stroke: #1f77b4;fill: #1f77b4; stroke: #1f77b4"/>
     <circle cx="265.186" cy="394.869" r="2" style="stroke: #1f77b4;fill: #1f77b4; stroke: #1f77b4"/>
     <circle cx="267.647" cy="394.955" r="2" style="stroke: #1f77b4;fill: #1f77b4; stroke: #1f77b4"/>
     <circle cx="270.108" cy="394.955" r="2" style="stroke: #1f77b4;fill: #1f77b4; stroke: #1f77b4"/>
     <circle cx="272.569" cy="394.869" r="2" style="stroke: #1f77b4;fill: #1f77b4; stroke: #1f77b4"/>
     <circle cx="275.030" cy="394.783" r="2" style="stroke: #1f77b4;fill: #1f77b4; stroke: #1f77b4"/>
     <circle cx="277.491" cy="394.698" r="2" style="stroke: #1f77b4;fill: #1f77b4; stroke: #1f77b4"/>
     <circle cx="279.952" cy="394.698" r="2" style="stroke: #1f77b4;fill: #1f77b4; stroke: #1f77b4"/>
     <circle cx="282.413" cy="394.612" r="2" style="stroke: #1f77b4;fill: #1f77b4; stroke: #1f77b4"/>
     <circle cx="284.874" cy="394.527" r="2" style="stroke: #1f77b4;fill: #1f77b4; stroke: #1f77b4"/>
     <circle cx="287.335" cy="394.527" r="2" style="stroke: #1f77b4;fill: #1f77b4; stroke: #1f77b4"/>
     <circle cx="289.796" cy="394.527" r="2" style="stroke: #1f77b4;fill: #1f77b4; stroke: #1f77b4"/>
     <circle cx="292.257" cy="394.527" r="2" style="stroke: #1f77b4;fill: #1f77b4; stroke: #1f77b4"/>
     <circle cx="294.718" cy="394.527" r="2" style="stroke: #1f77b4;fill: #1f77b4; stroke: #1f77b4"/>
     <circle cx="297.179" cy="394.527" r="2" style="stroke: #1f77b4;fill: #1f77b4; stroke: #1f77b4"/>
     <circle cx="299.640" cy="394.612" r="2" style="stroke: #1f77b4;fill: #1f77b4; stroke: #1f77b4"/>
     <circle cx="302.101" cy="394.527" r="2" style="stroke: #1f77b4;fill: #1f77b4; stroke: #1f77b4"/>
     <circle cx="304.562" cy="394.356" r="2" style="stroke: #1f77b4;fill: #1f77b4; stroke: #1f77b4"/>
     <circle cx="307.023" cy="394.441" r="2" style="stroke: #1f77b4;fill: #1f77b4; stroke: #1f77b4"/>
     <circle cx="309.485" cy="394.527" r="2" style="stroke: #1f77b4;fill: #1f77b4; stroke: #1f77b4"/>
     <circle cx="311.946" cy="394.612" r="2" style="stroke: #1f77b4;fill: #1f77b4; stroke: #1f77b4"/>
     <circle cx="314.407" cy="394.612" r="2" style="stroke: #1f77b4;fill: #1f77b4; stroke: #1f77b4"/>
     <circle cx="316.868" cy="394.527" r="2" style="stroke: #1f77b4;fill: #1f77b4; stroke: #1f77b4"/>
     <circle cx="319.329" cy="394.612" r="2" style="stroke: #1f77b4;fill: #1f77b4; stroke: #1f77b4"/>
     <circle cx="321.790" cy="394.698" r="2" style="stroke: #1f77b4;fill: #1f77b4; stroke: #1f77b4"/>
     <circle cx="324.251" cy="394.612" r="2" style="stroke: #1f77b4;fill: #1f77b4; stroke: #1f77b4"/>
     <circle cx="326.712" cy="394.527" r="2" style="stroke: #1f77b4;fill: #1f77b4; stroke: #1f77b4"/>
     <circle cx="329.173" cy="394.527" r="2" style="stroke: #1f77b4;fill: #1f77b4; stroke: #1f77b4"/>
     <circle cx="331.634" cy="394.441" r="2" style="stroke: #1f77b4;fill: #1f77b4; stroke: #1f77b4"/>
     <circle cx="334.095" cy="394.356" r="2" style="stroke: #1f77b4;fill: #1f77b4; stroke: #1f77b4"/>
     <circle cx="336.556" cy="394.356" r="2" style="stroke: #1f77b4;fill: #1f77b4; stroke: #1f77b4"/>
     <circle cx="339.017" cy="394.356" r="2" style="stroke: #1f77b4;fill: #1f77b4; stroke: #1f77b4"/>
    </g>
   </g>
   <g id="line2d_76">
    <path d="M 279.952 394.673 L 282.413 394.640 L 284.874 394.607 L 287.335 394.580 L 289.796 394.560 L 292.257 394.545 L 294.718 394.534 L 297.179 394.526 L 299.640 394.520 L 302.101 394.517 L 304.562 394.517 L 307.023 394.523 L 309.485 394.534 L 311.946 394.547 L 314.407 394.560 L 316.868 394.569 L 319.329 394.571 L 321.790 394.564 L 324.251 394.547 L 326.712 394.523 L 329.173 394.494 L 331.634 394.463 L 334.095 394.436 L 336.556 394.415 L 339.017 394.404 " clip-path="url(#p858fa48806)" style="fill: none; stroke-dasharray: 2,3.3; stroke-dashoffset: 0; stroke: #ff7f0e; stroke-width: 2"/>
   </g>
   <g id="patch_34">
    <path d="M 212.396 402.474 L 212.396 237.058 " style="fill: none; stroke: #000000; stroke-width: 0.8; stroke-linejoin: miter; stroke-linecap: square"/>
   </g>
   <g id="patch_35">
    <path d="M 345.047 402.474 L 345.047 237.058 " style="fill: none; stroke: #000000; stroke-width: 0.8; stroke-linejoin: miter; stroke-linecap: square"/>
   </g>
   <g id="patch_36">
    <path d="M 212.396 402.474 L 345.047 402.474 " style="fill: none; stroke: #000000; stroke-width: 0.8; stroke-linejoin: miter; stroke-linecap: square"/>
   </g>
   <g id="patch_37">
    <path d="M 212.396 237.058 L 345.047 237.058 " style="fill: none; stroke: #000000; stroke-width: 0.8; stroke-linejoin: miter; stroke-linecap: square"/>
   </g>
   <g id="text_69">
    <text style="font-size: 12px; font-family: 'DejaVu Sans', 'Liberation Sans', sans-serif; text-anchor: middle" x="278.721" y="231.058">val/cls_loss</text>
   </g>
  </g>
  <g id="axes_8">
   <g id="patch_38">
    <path d="M 381.420 402.474 L 514.071 402.474 L 514.071 237.058 L 381.420 237.058 z
" style="fill: #ffffff"/>
   </g>
   <g id="matplotlib.axis_15">
    <g id="xtick_22">
     <g id="line2d_77">
      <g>
       <path d="M 0 0 L 0 3.5" transform="translate(384.989 402.474)" style="stroke: #000000; stroke-width: 0.8;stroke: #000000; stroke-width: 0.8"/>
      </g>
     </g>
     <g id="text_70">
      <text style="font-size: 11px; font-family: 'DejaVu Sans', 'Liberation Sans', sans-serif; text-anchor: middle" x="384.989" y="417.832">0</text>
     </g>
    </g>
    <g id="xtick_23">
     <g id="line2d_78">
      <g>
       <path d="M 0 0 L 0 3.5" transform="translate(434.210 402.474)" style="stroke: #000000; stroke-width: 0.8;stroke: #000000; stroke-width: 0.8"/>
      </g>
     </g>
     <g id="text_71">
      <text style="font-size: 11px; font-family: 'DejaVu Sans', 'Liberation Sans', sans-serif; text-anchor: middle" x="434.210" y="417.832">20</text>
     </g>
    </g>
    <g id="xtick_24">
     <g id="line2d_79">
      <g>
       <path d="M 0 0 L 0 3.5" transform="translate(483.431 402.474)" style="stroke: #000000; stroke-width: 0.8;stroke: #000000; stroke-width: 0.8"/>
      </g>
     </g>
     <g id="text_72">
      <text style="font-size: 11px; font-family: 'DejaVu Sans', 'Liberation Sans', sans-serif; text-anchor: middle" x="483.431" y="417.832">40</text>
     </g>
    </g>
   </g>
   <g id="matplotlib.axis_16">
    <g id="ytick_40">
     <g id="line2d_80">
      <g>
       <path d="M 0 0 L -3.5 0" transform="translate(381.420 374.315)" style="stroke: #000000; stroke-width: 0.8;stroke: #000000; stroke-width: 0.8"/>
      </g>
     </g>
     <g id="text_73">
      <text style="font-size: 11px; font-family: 'DejaVu Sans', 'Liberation Sans', sans-serif; text-anchor: end" x="374.420" y="378.494">5</text>
     </g>
    </g>
    <g id="ytick_41">
     <g id="line2d_81">
      <g>
       <path d="M 0 0 L -3.5 0" transform="translate(381.420 344.829)" style="stroke: #000000; stroke-width: 0.8;stroke: #000000; stroke-width: 0.8"/>
      </g>
     </g>
     <g id="text_74">
      <text style="font-size: 11px; font-family: 'DejaVu Sans', 'Liberation Sans', sans-serif; text-anchor: end" x="374.420" y="349.008">10</text>
     </g>
    </g>
    <g id="ytick_42">
     <g id="line2d_82">
      <g>
       <path d="M 0 0 L -3.5 0" transform="translate(381.420 315.343)" style="stroke: #000000; stroke-width: 0.8;stroke: #000000; stroke-width: 0.8"/>
      </g>
     </g>
     <g id="text_75">
      <text style="font-size: 11px; font-family: 'DejaVu Sans', 'Liberation Sans', sans-serif; text-anchor: end" x="374.420" y="319.522">15</text>
     </g>
    </g>
    <g id="ytick_43">
     <g id="line2d_83">
      <g>
       <path d="M 0 0 L -3.5 0" transform="translate(381.420 285.857)" style="stroke: #000000; stroke-width: 0.8;stroke: #000000; stroke-width: 0.8"/>
      </g>
     </g>
     <g id="text_76">
      <text style="font-size: 11px; font-family: 'DejaVu Sans', 'Liberation Sans', sans-serif; text-anchor: end" x="374.420" y="290.036">20</text>
     </g>
    </g>
    <g id="ytick_44">
     <g id="line2d_84">
      <g>
       <path d="M 0 0 L -3.5 0" transform="translate(381.420 256.371)" style="stroke: #000000; stroke-width: 0.8;stroke: #000000; stroke-width: 0.8"/>
      </g>
     </g>
     <g id="text_77">
      <text style="font-size: 11px; font-family: 'DejaVu Sans', 'Liberation Sans', sans-serif; text-anchor: end" x="374.420" y="260.550">25</text>
     </g>
    </g>
   </g>
   <g id="line2d_85">
    <path d="M 387.450 393.893 L 389.911 394.778 L 392.372 394.955 L 394.833 394.778 L 397.294 394.365 L 399.755 392.006 L 402.216 387.760 L 404.677 390.355 L 407.138 392.124 L 409.599 392.124 L 412.060 356.859 L 414.521 244.577 L 416.982 386.876 L 419.443 393.893 L 421.905 393.186 L 424.366 393.362 L 426.827 393.480 L 429.288 393.657 L 431.749 393.775 L 434.210 394.601 L 436.671 394.660 L 439.132 394.660 L 441.593 394.365 L 444.054 393.775 L 446.515 394.070 L 448.976 394.070 L 451.437 394.070 L 453.898 394.070 L 456.359 394.247 L 458.820 394.247 L 461.281 394.365 L 463.742 394.365 L 466.203 394.365 L 468.665 394.365 L 471.126 394.483 L 473.587 394.483 L 476.048 394.365 L 478.509 394.365 L 480.970 394.247 L 483.431 394.070 L 485.892 393.893 L 488.353 393.657 L 490.814 393.893 L 493.275 394.365 L 495.736 394.483 L 498.197 394.247 L 500.658 393.893 L 503.119 394.070 L 505.580 394.247 L 508.041 394.365 " clip-path="url(#p0fc45546cd)" style="fill: none; stroke: #1f77b4; stroke-width: 2; stroke-linecap: square"/>
    <g clip-path="url(#p0fc45546cd)">
     <circle cx="387.450" cy="393.893" r="2" style="stroke: #1f77b4;fill: #1f77b4; stroke: #1f77b4"/>
     <circle cx="389.911" cy="394.778" r="2" style="stroke: #1f77b4;fill: #1f77b4; stroke: #1f77b4"/>
     <circle cx="392.372" cy="394.955" r="2" style="stroke: #1f77b4;fill: #1f77b4; stroke: #1f77b4"/>
     <circle cx="394.833" cy="394.778" r="2" style="stroke: #1f77b4;fill: #1f77b4; stroke: #1f77b4"/>
     <circle cx="397.294" cy="394.365" r="2" style="stroke: #1f77b4;fill: #1f77b4; stroke: #1f77b4"/>
     <circle cx="399.755" cy="392.006" r="2" style="stroke: #1f77b4;fill: #1f77b4; stroke: #1f77b4"/>
     <circle cx="402.216" cy="387.760" r="2" style="stroke: #1f77b4;fill: #1f77b4; stroke: #1f77b4"/>
     <circle cx="404.677" cy="390.355" r="2" style="stroke: #1f77b4;fill: #1f77b4; stroke: #1f77b4"/>
     <circle cx="407.138" cy="392.124" r="2" style="stroke: #1f77b4;fill: #1f77b4; stroke: #1f77b4"/>
     <circle cx="409.599" cy="392.124" r="2" style="stroke: #1f77b4;fill: #1f77b4; stroke: #1f77b4"/>
     <circle cx="412.060" cy="356.859" r="2" style="stroke: #1f77b4;fill: #1f77b4; stroke: #1f77b4"/>
     <circle cx="414.521" cy="244.577" r="2" style="stroke: #1f77b4;fill: #1f77b4; stroke: #1f77b4"/>
     <circle cx="416.982" cy="386.876" r="2" style="stroke: #1f77b4;fill: #1f77b4; stroke: #1f77b4"/>
     <circle cx="419.443" cy="393.893" r="2" style="stroke: #1f77b4;fill: #1f77b4; stroke: #1f77b4"/>
     <circle cx="421.905" cy="393.186" r="2" style="stroke: #1f77b4;fill: #1f77b4; stroke: #1f77b4"/>
     <circle cx="424.366" cy="393.362" r="2" style="stroke: #1f77b4;fill: #1f77b4; stroke: #1f77b4"/>
     <circle cx="426.827" cy="393.480" r="2" style="stroke: #1f77b4;fill: #1f77b4; stroke: #1f77b4"/>
     <circle cx="429.288" cy="393.657" r="2" style="stroke: #1f77b4;fill: #1f77b4; stroke: #1f77b4"/>
     <circle cx="431.749" cy="393.775" r="2" style="stroke: #1f77b4;fill: #1f77b4; stroke: #1f77b4"/>
     <circle cx="434.210" cy="394.601" r="2" style="stroke: #1f77b4;fill: #1f77b4; stroke: #1f77b4"/>
     <circle cx="436.671" cy="394.660" r="2" style="stroke: #1f77b4;fill: #1f77b4; stroke: #1f77b4"/>
     <circle cx="439.132" cy="394.660" r="2" style="stroke: #1f77b4;fill: #1f77b4; stroke: #1f77b4"/>
     <circle cx="441.593" cy="394.365" r="2" style="stroke: #1f77b4;fill: #1f77b4; stroke: #1f77b4"/>
     <circle cx="444.054" cy="393.775" r="2" style="stroke: #1f77b4;fill: #1f77b4; stroke: #1f77b4"/>
     <circle cx="446.515" cy="394.070" r="2" style="stroke: #1f77b4;fill: #1f77b4; stroke: #1f77b4"/>
     <circle cx="448.976" cy="394.070" r="2" style="stroke: #1f77b4;fill: #1f77b4; stroke: #1f77b4"/>
     <circle cx="451.437" cy="394.070" r="2" style="stroke: #1f77b4;fill: #1f77b4; stroke: #1f77b4"/>
     <circle cx="453.898" cy="394.070" r="2" style="stroke: #1f77b4;fill: #1f77b4; stroke: #1f77b4"/>
     <circle cx="456.359" cy="394.247" r="2" style="stroke: #1f77b4;fill: #1f77b4; stroke: #1f77b4"/>
     <circle cx="458.820" cy="394.247" r="2" style="stroke: #1f77b4;fill: #1f77b4; stroke: #1f77b4"/>
     <circle cx="461.281" cy="394.365" r="2" style="stroke: #1f77b4;fill: #1f77b4; stroke: #1f77b4"/>
     <circle cx="463.742" cy="394.365" r="2" style="stroke: #1f77b4;fill: #1f77b4; stroke: #1f77b4"/>
     <circle cx="466.203" cy="394.365" r="2" style="stroke: #1f77b4;fill: #1f77b4; stroke: #1f77b4"/>
     <circle cx="468.665" cy="394.365" r="2" style="stroke: #1f77b4;fill: #1f77b4; stroke: #1f77b4"/>
     <circle cx="471.126" cy="394.483" r="2" style="stroke: #1f77b4;fill: #1f77b4; stroke: #1f77b4"/>
     <circle cx="473.587" cy="394.483" r="2" style="stroke: #1f77b4;fill: #1f77b4; stroke: #1f77b4"/>
     <circle cx="476.048" cy="394.365" r="2" style="stroke: #1f77b4;fill: #1f77b4; stroke: #1f77b4"/>
     <circle cx="478.509" cy="394.365" r="2" style="stroke: #1f77b4;fill: #1f77b4; stroke: #1f77b4"/>
     <circle cx="480.970" cy="394.247" r="2" style="stroke: #1f77b4;fill: #1f77b4; stroke: #1f77b4"/>
     <circle cx="483.431" cy="394.070" r="2" style="stroke: #1f77b4;fill: #1f77b4; stroke: #1f77b4"/>
     <circle cx="485.892" cy="393.893" r="2" style="stroke: #1f77b4;fill: #1f77b4; stroke: #1f77b4"/>
     <circle cx="488.353" cy="393.657" r="2" style="stroke: #1f77b4;fill: #1f77b4; stroke: #1f77b4"/>
     <circle cx="490.814" cy="393.893" r="2" style="stroke: #1f77b4;fill: #1f77b4; stroke: #1f77b4"/>
     <circle cx="493.275" cy="394.365" r="2" style="stroke: #1f77b4;fill: #1f77b4; stroke: #1f77b4"/>
     <circle cx="495.736" cy="394.483" r="2" style="stroke: #1f77b4;fill: #1f77b4; stroke: #1f77b4"/>
     <circle cx="498.197" cy="394.247" r="2" style="stroke: #1f77b4;fill: #1f77b4; stroke: #1f77b4"/>
     <circle cx="500.658" cy="393.893" r="2" style="stroke: #1f77b4;fill: #1f77b4; stroke: #1f77b4"/>
     <circle cx="503.119" cy="394.070" r="2" style="stroke: #1f77b4;fill: #1f77b4; stroke: #1f77b4"/>
     <circle cx="505.580" cy="394.247" r="2" style="stroke: #1f77b4;fill: #1f77b4; stroke: #1f77b4"/>
     <circle cx="508.041" cy="394.365" r="2" style="stroke: #1f77b4;fill: #1f77b4; stroke: #1f77b4"/>
    </g>
   </g>
   <g id="line2d_86">
    <path d="M 387.450 394.085 L 389.911 393.871 L 392.372 393.375 L 394.833 392.468 L 397.294 390.949 L 399.755 388.577 L 402.216 385.172 L 404.677 380.787 L 407.138 375.877 L 409.599 371.343 L 412.060 368.300 L 414.521 367.642 L 416.982 369.613 L 419.443 373.672 L 421.905 378.746 L 424.366 383.701 L 426.827 387.754 L 429.288 390.621 L 431.749 392.406 L 434.210 393.399 L 436.671 393.893 L 439.132 394.107 L 441.593 394.179 L 444.054 394.186 L 446.515 394.174 L 448.976 394.162 L 451.437 394.164 L 453.898 394.183 L 456.359 394.213 L 458.820 394.250 L 461.281 394.287 L 463.742 394.320 L 466.203 394.344 L 468.665 394.356 L 471.126 394.352 L 473.587 394.332 L 476.048 394.296 L 478.509 394.247 L 480.970 394.194 L 483.431 394.145 L 485.892 394.110 L 488.353 394.095 L 490.814 394.099 L 493.275 394.116 L 495.736 394.138 L 498.197 394.159 L 500.658 394.176 L 503.119 394.189 L 505.580 394.198 L 508.041 394.203 " clip-path="url(#p0fc45546cd)" style="fill: none; stroke-dasharray: 2,3.3; stroke-dashoffset: 0; stroke: #ff7f0e; stroke-width: 2"/>
   </g>
   <g id="patch_39">
    <path d="M 381.420 402.474 L 381.420 237.058 " style="fill: none; stroke: #000000; stroke-width: 0.8; stroke-linejoin: miter; stroke-linecap: square"/>
   </g>
   <g id="patch_40">
    <path d="M 514.071 402.474 L 514.071 237.058 " style="fill: none; stroke: #000000; stroke-width: 0.8; stroke-linejoin: miter; stroke-linecap: square"/>
   </g>
   <g id="patch_41">
    <path d="M 381.420 402.474 L 514.071 402.474 " style="fill: none; stroke: #000000; stroke-width: 0.8; stroke-linejoin: miter; stroke-linecap: square"/>
   </g>
   <g id="patch_42">
    <path d="M 381.420 237.058 L 514.071 237.058 " style="fill: none; stroke: #000000; stroke-width: 0.8; stroke-linejoin: miter; stroke-linecap: square"/>
   </g>
   <g id="text_78">
    <text style="font-size: 12px; font-family: 'DejaVu Sans', 'Liberation Sans', sans-serif; text-anchor: middle" x="447.746" y="231.058">val/dfl_loss</text>
   </g>
  </g>
  <g id="axes_9">
   <g id="patch_43">
    <path d="M 550.444 402.474 L 683.095 402.474 L 683.095 237.058 L 550.444 237.058 z
" style="fill: #ffffff"/>
   </g>
   <g id="matplotlib.axis_17">
    <g id="xtick_25">
     <g id="line2d_87">
      <g>
       <path d="M 0 0 L 0 3.5" transform="translate(554.013 402.474)" style="stroke: #000000; stroke-width: 0.8;stroke: #000000; stroke-width: 0.8"/>
      </g>
     </g>
     <g id="text_79">
      <text style="font-size: 11px; font-family: 'DejaVu Sans', 'Liberation Sans', sans-serif; text-anchor: middle" x="554.013" y="417.832">0</text>
     </g>
    </g>
    <g id="xtick_26">
     <g id="line2d_88">
      <g>
       <path d="M 0 0 L 0 3.5" transform="translate(603.234 402.474)" style="stroke: #000000; stroke-width: 0.8;stroke: #000000; stroke-width: 0.8"/>
      </g>
     </g>
     <g id="text_80">
      <text style="font-size: 11px; font-family: 'DejaVu Sans', 'Liberation Sans', sans-serif; text-anchor: middle" x="603.234" y="417.832">20</text>
     </g>
    </g>
    <g id="xtick_27">
     <g id="line2d_89">
      <g>
       <path d="M 0 0 L 0 3.5" transform="translate(652.455 402.474)" style="stroke: #000000; stroke-width: 0.8;stroke: #000000; stroke-width: 0.8"/>
      </g>
     </g>
     <g id="text_81">
      <text style="font-size: 11px; font-family: 'DejaVu Sans', 'Liberation Sans', sans-serif; text-anchor: middle" x="652.455" y="417.832">40</text>
     </g>
    </g>
   </g>
   <g id="matplotlib.axis_18">
    <g id="ytick_45">
     <g id="line2d_90">
      <g>
       <path d="M 0 0 L -3.5 0" transform="translate(550.444 394.955)" style="stroke: #000000; stroke-width: 0.8;stroke: #000000; stroke-width: 0.8"/>
      </g>
     </g>
     <g id="text_82">
      <text style="font-size: 11px; font-family: 'DejaVu Sans', 'Liberation Sans', sans-serif; text-anchor: end" x="543.444" y="399.134">0.0</text>
     </g>
    </g>
    <g id="ytick_46">
     <g id="line2d_91">
      <g>
       <path d="M 0 0 L -3.5 0" transform="translate(550.444 351.176)" style="stroke: #000000; stroke-width: 0.8;stroke: #000000; stroke-width: 0.8"/>
      </g>
     </g>
     <g id="text_83">
      <text style="font-size: 11px; font-family: 'DejaVu Sans', 'Liberation Sans', sans-serif; text-anchor: end" x="543.444" y="355.356">0.2</text>
     </g>
    </g>
    <g id="ytick_47">
     <g id="line2d_92">
      <g>
       <path d="M 0 0 L -3.5 0" transform="translate(550.444 307.398)" style="stroke: #000000; stroke-width: 0.8;stroke: #000000; stroke-width: 0.8"/>
      </g>
     </g>
     <g id="text_84">
      <text style="font-size: 11px; font-family: 'DejaVu Sans', 'Liberation Sans', sans-serif; text-anchor: end" x="543.444" y="311.577">0.4</text>
     </g>
    </g>
    <g id="ytick_48">
     <g id="line2d_93">
      <g>
       <path d="M 0 0 L -3.5 0" transform="translate(550.444 263.620)" style="stroke: #000000; stroke-width: 0.8;stroke: #000000; stroke-width: 0.8"/>
      </g>
     </g>
     <g id="text_85">
      <text style="font-size: 11px; font-family: 'DejaVu Sans', 'Liberation Sans', sans-serif; text-anchor: end" x="543.444" y="267.799">0.6</text>
     </g>
    </g>
   </g>
   <g id="line2d_94">
    <path d="M 556.474 302.451 L 558.935 374.160 L 561.396 389.482 L 563.857 387.293 L 566.318 388.169 L 568.779 385.323 L 571.240 394.955 L 573.701 394.517 L 576.162 393.641 L 578.624 390.577 L 581.085 394.955 L 583.546 394.955 L 586.007 394.517 L 588.468 363.215 L 590.929 369.344 L 593.390 304.224 L 595.851 336.730 L 598.312 306.304 L 600.773 282.226 L 603.234 249.173 L 605.695 247.422 L 608.156 247.422 L 610.617 268.436 L 613.078 264.145 L 615.539 274.214 L 618.000 263.620 L 620.461 255.740 L 622.922 255.302 L 625.384 253.332 L 627.845 253.113 L 630.306 250.705 L 632.767 252.238 L 635.228 251.362 L 637.689 244.795 L 640.150 247.422 L 642.611 260.118 L 645.072 268.873 L 647.533 253.989 L 649.994 250.049 L 652.455 253.113 L 654.916 255.740 L 657.377 254.864 L 659.838 248.626 L 662.299 244.577 L 664.760 248.298 L 667.221 251.362 L 669.683 254.208 L 672.144 255.959 L 674.605 256.616 L 677.066 254.208 " clip-path="url(#p2cf65294ca)" style="fill: none; stroke: #1f77b4; stroke-width: 2; stroke-linecap: square"/>
    <g clip-path="url(#p2cf65294ca)">
     <circle cx="556.474" cy="302.451" r="2" style="stroke: #1f77b4;fill: #1f77b4; stroke: #1f77b4"/>
     <circle cx="558.935" cy="374.160" r="2" style="stroke: #1f77b4;fill: #1f77b4; stroke: #1f77b4"/>
     <circle cx="561.396" cy="389.482" r="2" style="stroke: #1f77b4;fill: #1f77b4; stroke: #1f77b4"/>
     <circle cx="563.857" cy="387.293" r="2" style="stroke: #1f77b4;fill: #1f77b4; stroke: #1f77b4"/>
     <circle cx="566.318" cy="388.169" r="2" style="stroke: #1f77b4;fill: #1f77b4; stroke: #1f77b4"/>
     <circle cx="568.779" cy="385.323" r="2" style="stroke: #1f77b4;fill: #1f77b4; stroke: #1f77b4"/>
     <circle cx="571.240" cy="394.955" r="2" style="stroke: #1f77b4;fill: #1f77b4; stroke: #1f77b4"/>
     <circle cx="573.701" cy="394.517" r="2" style="stroke: #1f77b4;fill: #1f77b4; stroke: #1f77b4"/>
     <circle cx="576.162" cy="393.641" r="2" style="stroke: #1f77b4;fill: #1f77b4; stroke: #1f77b4"/>
     <circle cx="578.624" cy="390.577" r="2" style="stroke: #1f77b4;fill: #1f77b4; stroke: #1f77b4"/>
     <circle cx="581.085" cy="394.955" r="2" style="stroke: #1f77b4;fill: #1f77b4; stroke: #1f77b4"/>
     <circle cx="583.546" cy="394.955" r="2" style="stroke: #1f77b4;fill: #1f77b4; stroke: #1f77b4"/>
     <circle cx="586.007" cy="394.517" r="2" style="stroke: #1f77b4;fill: #1f77b4; stroke: #1f77b4"/>
     <circle cx="588.468" cy="363.215" r="2" style="stroke: #1f77b4;fill: #1f77b4; stroke: #1f77b4"/>
     <circle cx="590.929" cy="369.344" r="2" style="stroke: #1f77b4;fill: #1f77b4; stroke: #1f77b4"/>
     <circle cx="593.390" cy="304.224" r="2" style="stroke: #1f77b4;fill: #1f77b4; stroke: #1f77b4"/>
     <circle cx="595.851" cy="336.730" r="2" style="stroke: #1f77b4;fill: #1f77b4; stroke: #1f77b4"/>
     <circle cx="598.312" cy="306.304" r="2" style="stroke: #1f77b4;fill: #1f77b4; stroke: #1f77b4"/>
     <circle cx="600.773" cy="282.226" r="2" style="stroke: #1f77b4;fill: #1f77b4; stroke: #1f77b4"/>
     <circle cx="603.234" cy="249.173" r="2" style="stroke: #1f77b4;fill: #1f77b4; stroke: #1f77b4"/>
     <circle cx="605.695" cy="247.422" r="2" style="stroke: #1f77b4;fill: #1f77b4; stroke: #1f77b4"/>
     <circle cx="608.156" cy="247.422" r="2" style="stroke: #1f77b4;fill: #1f77b4; stroke: #1f77b4"/>
     <circle cx="610.617" cy="268.436" r="2" style="stroke: #1f77b4;fill: #1f77b4; stroke: #1f77b4"/>
     <circle cx="613.078" cy="264.145" r="2" style="stroke: #1f77b4;fill: #1f77b4; stroke: #1f77b4"/>
     <circle cx="615.539" cy="274.214" r="2" style="stroke: #1f77b4;fill: #1f77b4; stroke: #1f77b4"/>
     <circle cx="618.000" cy="263.620" r="2" style="stroke: #1f77b4;fill: #1f77b4; stroke: #1f77b4"/>
     <circle cx="620.461" cy="255.740" r="2" style="stroke: #1f77b4;fill: #1f77b4; stroke: #1f77b4"/>
     <circle cx="622.922" cy="255.302" r="2" style="stroke: #1f77b4;fill: #1f77b4; stroke: #1f77b4"/>
     <circle cx="625.384" cy="253.332" r="2" style="stroke: #1f77b4;fill: #1f77b4; stroke: #1f77b4"/>
     <circle cx="627.845" cy="253.113" r="2" style="stroke: #1f77b4;fill: #1f77b4; stroke: #1f77b4"/>
     <circle cx="630.306" cy="250.705" r="2" style="stroke: #1f77b4;fill: #1f77b4; stroke: #1f77b4"/>
     <circle cx="632.767" cy="252.238" r="2" style="stroke: #1f77b4;fill: #1f77b4; stroke: #1f77b4"/>
     <circle cx="635.228" cy="251.362" r="2" style="stroke: #1f77b4;fill: #1f77b4; stroke: #1f77b4"/>
     <circle cx="637.689" cy="244.795" r="2" style="stroke: #1f77b4;fill: #1f77b4; stroke: #1f77b4"/>
     <circle cx="640.150" cy="247.422" r="2" style="stroke: #1f77b4;fill: #1f77b4; stroke: #1f77b4"/>
     <circle cx="642.611" cy="260.118" r="2" style="stroke: #1f77b4;fill: #1f77b4; stroke: #1f77b4"/>
     <circle cx="645.072" cy="268.873" r="2" style="stroke: #1f77b4;fill: #1f77b4; stroke: #1f77b4"/>
     <circle cx="647.533" cy="253.989" r="2" style="stroke: #1f77b4;fill: #1f77b4; stroke: #1f77b4"/>
     <circle cx="649.994" cy="250.049" r="2" style="stroke: #1f77b4;fill: #1f77b4; stroke: #1f77b4"/>
     <circle cx="652.455" cy="253.113" r="2" style="stroke: #1f77b4;fill: #1f77b4; stroke: #1f77b4"/>
     <circle cx="654.916" cy="255.740" r="2" style="stroke: #1f77b4;fill: #1f77b4; stroke: #1f77b4"/>
     <circle cx="657.377" cy="254.864" r="2" style="stroke: #1f77b4;fill: #1f77b4; stroke: #1f77b4"/>
     <circle cx="659.838" cy="248.626" r="2" style="stroke: #1f77b4;fill: #1f77b4; stroke: #1f77b4"/>
     <circle cx="662.299" cy="244.577" r="2" style="stroke: #1f77b4;fill: #1f77b4; stroke: #1f77b4"/>
     <circle cx="664.760" cy="248.298" r="2" style="stroke: #1f77b4;fill: #1f77b4; stroke: #1f77b4"/>
     <circle cx="667.221" cy="251.362" r="2" style="stroke: #1f77b4;fill: #1f77b4; stroke: #1f77b4"/>
     <circle cx="669.683" cy="254.208" r="2" style="stroke: #1f77b4;fill: #1f77b4; stroke: #1f77b4"/>
     <circle cx="672.144" cy="255.959" r="2" style="stroke: #1f77b4;fill: #1f77b4; stroke: #1f77b4"/>
     <circle cx="674.605" cy="256.616" r="2" style="stroke: #1f77b4;fill: #1f77b4; stroke: #1f77b4"/>
     <circle cx="677.066" cy="254.208" r="2" style="stroke: #1f77b4;fill: #1f77b4; stroke: #1f77b4"/>
    </g>
   </g>
   <g id="line2d_95">
    <path d="M 556.474 363.015 L 558.935 365.648 L 561.396 370.201 L 563.857 375.569 L 566.318 380.695 L 568.779 384.861 L 571.240 387.734 L 573.701 389.212 L 576.162 389.222 L 578.624 387.586 L 581.085 384.019 L 583.546 378.213 L 586.007 369.992 L 588.468 359.418 L 590.929 346.848 L 593.390 332.902 L 595.851 318.395 L 598.312 304.264 L 600.773 291.464 L 603.234 280.811 L 605.695 272.793 L 608.156 267.417 L 610.617 264.214 L 613.078 262.413 L 615.539 261.223 L 618.000 260.071 L 620.461 258.709 L 622.922 257.164 L 625.384 255.610 L 627.845 254.250 L 630.306 253.243 L 632.767 252.686 L 635.228 252.597 L 637.689 252.913 L 640.150 253.476 L 642.611 254.065 L 645.072 254.464 L 647.533 254.526 L 649.994 254.225 L 652.455 253.638 L 654.916 252.910 L 657.377 252.210 L 659.838 251.698 L 662.299 251.492 L 664.760 251.639 L 667.221 252.093 L 669.683 252.733 L 672.144 253.395 L 674.605 253.927 L 677.066 254.220 " clip-path="url(#p2cf65294ca)" style="fill: none; stroke-dasharray: 2,3.3; stroke-dashoffset: 0; stroke: #ff7f0e; stroke-width: 2"/>
   </g>
   <g id="patch_44">
    <path d="M 550.444 402.474 L 550.444 237.058 " style="fill: none; stroke: #000000; stroke-width: 0.8; stroke-linejoin: miter; stroke-linecap: square"/>
   </g>
   <g id="patch_45">
    <path d="M 683.095 402.474 L 683.095 237.058 " style="fill: none; stroke: #000000; stroke-width: 0.8; stroke-linejoin: miter; stroke-linecap: square"/>
   </g>
   <g id="patch_46">
    <path d="M 550.444 402.474 L 683.095 402.474 " style="fill: none; stroke: #000000; stroke-width: 0.8; stroke-linejoin: miter; stroke-linecap: square"/>
   </g>
   <g id="patch_47">
    <path d="M 550.444 237.058 L 683.095 237.058 " style="fill: none; stroke: #000000; stroke-width: 0.8; stroke-linejoin: miter; stroke-linecap: square"/>
   </g>
   <g id="text_86">
    <text style="font-size: 12px; font-family: 'DejaVu Sans', 'Liberation Sans', sans-serif; text-anchor: middle" x="616.770" y="231.058">metrics/mAP50(B)</text>
   </g>
  </g>
  <g id="axes_10">
   <g id="patch_48">
    <path d="M 719.469 402.474 L 852.12 402.474 L 852.12 237.058 L 719.469 237.058 z
" style="fill: #ffffff"/>
   </g>
   <g id="matplotlib.axis_19">
    <g id="xtick_28">
     <g id="line2d_96">
      <g>
       <path d="M 0 0 L 0 3.5" transform="translate(723.037 402.474)" style="stroke: #000000; stroke-width: 0.8;stroke: #000000; stroke-width: 0.8"/>
      </g>
     </g>
     <g id="text_87">
      <text style="font-size: 11px; font-family: 'DejaVu Sans', 'Liberation Sans', sans-serif; text-anchor: middle" x="723.037" y="417.832">0</text>
     </g>
    </g>
    <g id="xtick_29">
     <g id="line2d_97">
      <g>
       <path d="M 0 0 L 0 3.5" transform="translate(772.258 402.474)" style="stroke: #000000; stroke-width: 0.8;stroke: #000000; stroke-width: 0.8"/>
      </g>
     </g>
     <g id="text_88">
      <text style="font-size: 11px; font-family: 'DejaVu Sans', 'Liberation Sans', sans-serif; text-anchor: middle" x="772.258" y="417.832">20</text>
     </g>
    </g>
    <g id="xtick_30">
     <g id="line2d_98">
      <g>
       <path d="M 0 0 L 0 3.5" transform="translate(821.479 402.474)" style="stroke: #000000; stroke-width: 0.8;stroke: #000000; stroke-width: 0.8"/>
      </g>
     </g>
     <g id="text_89">
      <text style="font-size: 11px; font-family: 'DejaVu Sans', 'Liberation Sans', sans-serif; text-anchor: middle" x="821.479" y="417.832">40</text>
     </g>
    </g>
   </g>
   <g id="matplotlib.axis_20">
    <g id="ytick_49">
     <g id="line2d_99">
      <g>
       <path d="M 0 0 L -3.5 0" transform="translate(719.469 394.955)" style="stroke: #000000; stroke-width: 0.8;stroke: #000000; stroke-width: 0.8"/>
      </g>
     </g>
     <g id="text_90">
      <text style="font-size: 11px; font-family: 'DejaVu Sans', 'Liberation Sans', sans-serif; text-anchor: end" x="712.469" y="399.134">0.00</text>
     </g>
    </g>
    <g id="ytick_50">
     <g id="line2d_100">
      <g>
       <path d="M 0 0 L -3.5 0" transform="translate(719.469 370.221)" style="stroke: #000000; stroke-width: 0.8;stroke: #000000; stroke-width: 0.8"/>
      </g>
     </g>
     <g id="text_91">
      <text style="font-size: 11px; font-family: 'DejaVu Sans', 'Liberation Sans', sans-serif; text-anchor: end" x="712.469" y="374.401">0.05</text>
     </g>
    </g>
    <g id="ytick_51">
     <g id="line2d_101">
      <g>
       <path d="M 0 0 L -3.5 0" transform="translate(719.469 345.488)" style="stroke: #000000; stroke-width: 0.8;stroke: #000000; stroke-width: 0.8"/>
      </g>
     </g>
     <g id="text_92">
      <text style="font-size: 11px; font-family: 'DejaVu Sans', 'Liberation Sans', sans-serif; text-anchor: end" x="712.469" y="349.667">0.10</text>
     </g>
    </g>
    <g id="ytick_52">
     <g id="line2d_102">
      <g>
       <path d="M 0 0 L -3.5 0" transform="translate(719.469 320.755)" style="stroke: #000000; stroke-width: 0.8;stroke: #000000; stroke-width: 0.8"/>
      </g>
     </g>
     <g id="text_93">
      <text style="font-size: 11px; font-family: 'DejaVu Sans', 'Liberation Sans', sans-serif; text-anchor: end" x="712.469" y="324.934">0.15</text>
     </g>
    </g>
    <g id="ytick_53">
     <g id="line2d_103">
      <g>
       <path d="M 0 0 L -3.5 0" transform="translate(719.469 296.022)" style="stroke: #000000; stroke-width: 0.8;stroke: #000000; stroke-width: 0.8"/>
      </g>
     </g>
     <g id="text_94">
      <text style="font-size: 11px; font-family: 'DejaVu Sans', 'Liberation Sans', sans-serif; text-anchor: end" x="712.469" y="300.201">0.20</text>
     </g>
    </g>
    <g id="ytick_54">
     <g id="line2d_104">
      <g>
       <path d="M 0 0 L -3.5 0" transform="translate(719.469 271.288)" style="stroke: #000000; stroke-width: 0.8;stroke: #000000; stroke-width: 0.8"/>
      </g>
     </g>
     <g id="text_95">
      <text style="font-size: 11px; font-family: 'DejaVu Sans', 'Liberation Sans', sans-serif; text-anchor: end" x="712.469" y="275.468">0.25</text>
     </g>
    </g>
    <g id="ytick_55">
     <g id="line2d_105">
      <g>
       <path d="M 0 0 L -3.5 0" transform="translate(719.469 246.555)" style="stroke: #000000; stroke-width: 0.8;stroke: #000000; stroke-width: 0.8"/>
      </g>
     </g>
     <g id="text_96">
      <text style="font-size: 11px; font-family: 'DejaVu Sans', 'Liberation Sans', sans-serif; text-anchor: end" x="712.469" y="250.734">0.30</text>
     </g>
    </g>
   </g>
   <g id="line2d_106">
    <path d="M 725.498 325.454 L 727.959 374.278 L 730.420 389.513 L 732.881 388.277 L 735.342 388.277 L 737.804 386.051 L 740.265 394.955 L 742.726 394.460 L 745.187 393.471 L 747.648 390.997 L 750.109 394.757 L 752.570 394.955 L 755.031 394.460 L 757.492 366.363 L 759.953 373.387 L 762.414 316.204 L 764.875 340.542 L 767.336 300.721 L 769.797 284.644 L 772.258 257.636 L 774.719 255.954 L 777.180 259.021 L 779.641 266.935 L 782.103 270.299 L 784.564 281.676 L 787.025 271.288 L 789.486 261.148 L 791.947 270.299 L 794.408 259.911 L 796.869 267.826 L 799.330 266.342 L 801.791 271.288 L 804.252 264.660 L 806.713 250.611 L 809.174 251.007 L 811.635 269.607 L 814.096 280.489 L 816.557 247.050 L 819.018 253.233 L 821.479 262.038 L 823.940 256.201 L 826.401 260.900 L 828.863 266.935 L 831.324 246.555 L 833.785 244.577 L 836.246 250.611 L 838.707 257.636 L 841.168 259.021 L 843.629 253.233 L 846.090 251.007 " clip-path="url(#p78997b6293)" style="fill: none; stroke: #1f77b4; stroke-width: 2; stroke-linecap: square"/>
    <g clip-path="url(#p78997b6293)">
     <circle cx="725.498" cy="325.454" r="2" style="stroke: #1f77b4;fill: #1f77b4; stroke: #1f77b4"/>
     <circle cx="727.959" cy="374.278" r="2" style="stroke: #1f77b4;fill: #1f77b4; stroke: #1f77b4"/>
     <circle cx="730.420" cy="389.513" r="2" style="stroke: #1f77b4;fill: #1f77b4; stroke: #1f77b4"/>
     <circle cx="732.881" cy="388.277" r="2" style="stroke: #1f77b4;fill: #1f77b4; stroke: #1f77b4"/>
     <circle cx="735.342" cy="388.277" r="2" style="stroke: #1f77b4;fill: #1f77b4; stroke: #1f77b4"/>
     <circle cx="737.804" cy="386.051" r="2" style="stroke: #1f77b4;fill: #1f77b4; stroke: #1f77b4"/>
     <circle cx="740.265" cy="394.955" r="2" style="stroke: #1f77b4;fill: #1f77b4; stroke: #1f77b4"/>
     <circle cx="742.726" cy="394.460" r="2" style="stroke: #1f77b4;fill: #1f77b4; stroke: #1f77b4"/>
     <circle cx="745.187" cy="393.471" r="2" style="stroke: #1f77b4;fill: #1f77b4; stroke: #1f77b4"/>
     <circle cx="747.648" cy="390.997" r="2" style="stroke: #1f77b4;fill: #1f77b4; stroke: #1f77b4"/>
     <circle cx="750.109" cy="394.757" r="2" style="stroke: #1f77b4;fill: #1f77b4; stroke: #1f77b4"/>
     <circle cx="752.570" cy="394.955" r="2" style="stroke: #1f77b4;fill: #1f77b4; stroke: #1f77b4"/>
     <circle cx="755.031" cy="394.460" r="2" style="stroke: #1f77b4;fill: #1f77b4; stroke: #1f77b4"/>
     <circle cx="757.492" cy="366.363" r="2" style="stroke: #1f77b4;fill: #1f77b4; stroke: #1f77b4"/>
     <circle cx="759.953" cy="373.387" r="2" style="stroke: #1f77b4;fill: #1f77b4; stroke: #1f77b4"/>
     <circle cx="762.414" cy="316.204" r="2" style="stroke: #1f77b4;fill: #1f77b4; stroke: #1f77b4"/>
     <circle cx="764.875" cy="340.542" r="2" style="stroke: #1f77b4;fill: #1f77b4; stroke: #1f77b4"/>
     <circle cx="767.336" cy="300.721" r="2" style="stroke: #1f77b4;fill: #1f77b4; stroke: #1f77b4"/>
     <circle cx="769.797" cy="284.644" r="2" style="stroke: #1f77b4;fill: #1f77b4; stroke: #1f77b4"/>
     <circle cx="772.258" cy="257.636" r="2" style="stroke: #1f77b4;fill: #1f77b4; stroke: #1f77b4"/>
     <circle cx="774.719" cy="255.954" r="2" style="stroke: #1f77b4;fill: #1f77b4; stroke: #1f77b4"/>
     <circle cx="777.180" cy="259.021" r="2" style="stroke: #1f77b4;fill: #1f77b4; stroke: #1f77b4"/>
     <circle cx="779.641" cy="266.935" r="2" style="stroke: #1f77b4;fill: #1f77b4; stroke: #1f77b4"/>
     <circle cx="782.103" cy="270.299" r="2" style="stroke: #1f77b4;fill: #1f77b4; stroke: #1f77b4"/>
     <circle cx="784.564" cy="281.676" r="2" style="stroke: #1f77b4;fill: #1f77b4; stroke: #1f77b4"/>
     <circle cx="787.025" cy="271.288" r="2" style="stroke: #1f77b4;fill: #1f77b4; stroke: #1f77b4"/>
     <circle cx="789.486" cy="261.148" r="2" style="stroke: #1f77b4;fill: #1f77b4; stroke: #1f77b4"/>
     <circle cx="791.947" cy="270.299" r="2" style="stroke: #1f77b4;fill: #1f77b4; stroke: #1f77b4"/>
     <circle cx="794.408" cy="259.911" r="2" style="stroke: #1f77b4;fill: #1f77b4; stroke: #1f77b4"/>
     <circle cx="796.869" cy="267.826" r="2" style="stroke: #1f77b4;fill: #1f77b4; stroke: #1f77b4"/>
     <circle cx="799.330" cy="266.342" r="2" style="stroke: #1f77b4;fill: #1f77b4; stroke: #1f77b4"/>
     <circle cx="801.791" cy="271.288" r="2" style="stroke: #1f77b4;fill: #1f77b4; stroke: #1f77b4"/>
     <circle cx="804.252" cy="264.660" r="2" style="stroke: #1f77b4;fill: #1f77b4; stroke: #1f77b4"/>
     <circle cx="806.713" cy="250.611" r="2" style="stroke: #1f77b4;fill: #1f77b4; stroke: #1f77b4"/>
     <circle cx="809.174" cy="251.007" r="2" style="stroke: #1f77b4;fill: #1f77b4; stroke: #1f77b4"/>
     <circle cx="811.635" cy="269.607" r="2" style="stroke: #1f77b4;fill: #1f77b4; stroke: #1f77b4"/>
     <circle cx="814.096" cy="280.489" r="2" style="stroke: #1f77b4;fill: #1f77b4; stroke: #1f77b4"/>
     <circle cx="816.557" cy="247.050" r="2" style="stroke: #1f77b4;fill: #1f77b4; stroke: #1f77b4"/>
     <circle cx="819.018" cy="253.233" r="2" style="stroke: #1f77b4;fill: #1f77b4; stroke: #1f77b4"/>
     <circle cx="821.479" cy="262.038" r="2" style="stroke: #1f77b4;fill: #1f77b4; stroke: #1f77b4"/>
     <circle cx="823.940" cy="256.201" r="2" style="stroke: #1f77b4;fill: #1f77b4; stroke: #1f77b4"/>
     <circle cx="826.401" cy="260.900" r="2" style="stroke: #1f77b4;fill: #1f77b4; stroke: #1f77b4"/>
     <circle cx="828.863" cy="266.935" r="2" style="stroke: #1f77b4;fill: #1f77b4; stroke: #1f77b4"/>
     <circle cx="831.324" cy="246.555" r="2" style="stroke: #1f77b4;fill: #1f77b4; stroke: #1f77b4"/>
     <circle cx="833.785" cy="244.577" r="2" style="stroke: #1f77b4;fill: #1f77b4; stroke: #1f77b4"/>
     <circle cx="836.246" cy="250.611" r="2" style="stroke: #1f77b4;fill: #1f77b4; stroke: #1f77b4"/>
     <circle cx="838.707" cy="257.636" r="2" style="stroke: #1f77b4;fill: #1f77b4; stroke: #1f77b4"/>
     <circle cx="841.168" cy="259.021" r="2" style="stroke: #1f77b4;fill: #1f77b4; stroke: #1f77b4"/>
     <circle cx="843.629" cy="253.233" r="2" style="stroke: #1f77b4;fill: #1f77b4; stroke: #1f77b4"/>
     <circle cx="846.090" cy="251.007" r="2" style="stroke: #1f77b4;fill: #1f77b4; stroke: #1f77b4"/>
    </g>
   </g>
   <g id="line2d_107">
    <path d="M 725.498 369.180 L 727.959 371.215 L 730.420 374.746 L 732.881 378.934 L 735.342 382.969 L 737.804 386.285 L 740.265 388.597 L 742.726 389.783 L 745.187 389.732 L 747.648 388.237 L 750.109 384.987 L 752.570 379.645 L 755.031 371.979 L 757.492 361.974 L 759.953 349.916 L 762.414 336.395 L 764.875 322.251 L 767.336 308.473 L 769.797 296.060 L 772.258 285.833 L 774.719 278.250 L 777.180 273.299 L 779.641 270.527 L 782.103 269.221 L 784.564 268.650 L 787.025 268.269 L 789.486 267.802 L 791.947 267.185 L 794.408 266.455 L 796.869 265.653 L 799.330 264.807 L 801.791 263.944 L 804.252 263.114 L 806.713 262.372 L 809.174 261.738 L 811.635 261.176 L 814.096 260.618 L 816.557 260.009 L 819.018 259.327 L 821.479 258.570 L 823.940 257.737 L 826.401 256.834 L 828.863 255.907 L 831.324 255.047 L 833.785 254.364 L 836.246 253.924 L 838.707 253.715 L 841.168 253.665 L 843.629 253.684 L 846.090 253.708 " clip-path="url(#p78997b6293)" style="fill: none; stroke-dasharray: 2,3.3; stroke-dashoffset: 0; stroke: #ff7f0e; stroke-width: 2"/>
   </g>
   <g id="patch_49">
    <path d="M 719.469 402.474 L 719.469 237.058 " style="fill: none; stroke: #000000; stroke-width: 0.8; stroke-linejoin: miter; stroke-linecap: square"/>
   </g>
   <g id="patch_50">
    <path d="M 852.12 402.474 L 852.12 237.058 " style="fill: none; stroke: #000000; stroke-width: 0.8; stroke-linejoin: miter; stroke-linecap: square"/>
   </g>
   <g id="patch_51">
    <path d="M 719.469 402.474 L 852.12 402.474 " style="fill: none; stroke: #000000; stroke-width: 0.8; stroke-linejoin: miter; stroke-linecap: square"/>
   </g>
   <g id="patch_52">
    <path d="M 719.469 237.058 L 852.12 237.058 " style="fill: none; stroke: #000000; stroke-width: 0.8; stroke-linejoin: miter; stroke-linecap: square"/>
   </g>
   <g id="text_97">
    <text style="font-size: 12px; font-family: 'DejaVu Sans', 'Liberation Sans', sans-serif; text-anchor: middle" x="785.794" y="231.058">metrics/mAP50-95(B)</text>
   </g>
  </g>
 </g>
 <defs>
  <clipPath id="p6f902339ce">
   <rect x="43.372" y="26.998" width="132.650" height="165.415"/>
  </clipPath>
  <clipPath id="p2032f3da3a">
   <rect x="212.396" y="26.998" width="132.650" height="165.415"/>
  </clipPath>
  <clipPath id="p749622a387">
   <rect x="381.420" y="26.998" width="132.650" height="165.415"/>
  </clipPath>
  <clipPath id="p696ac3a86a">
   <rect x="550.444" y="26.998" width="132.650" height="165.415"/>
  </clipPath>
  <clipPath id="p1779c1c7cb">
   <rect x="719.469" y="26.998" width="132.650" height="165.415"/>
  </clipPath>
  <clipPath id="pc8ee0f535e">
   <rect x="43.372" y="237.058" width="132.650" height="165.415"/>
  </clipPath>
  <clipPath id="p858fa48806">
   <rect x="212.396" y="237.058" width="132.650" height="165.415"/>
  </clipPath>
  <clipPath id="p0fc45546cd">
   <rect x="381.420" y="237.058" width="132.650" height="165.415"/>
  </clipPath>
  <clipPath id="p2cf65294ca">
   <rect x="550.444" y="237.058" width="132.650" height="165.415"/>
  </clipPath>
  <clipPath id="p78997b6293">
   <rect x="719.469" y="237.058" width="132.650" height="165.415"/>
  </clipPath>
 </defs>
</svg>

</div></body></html>
